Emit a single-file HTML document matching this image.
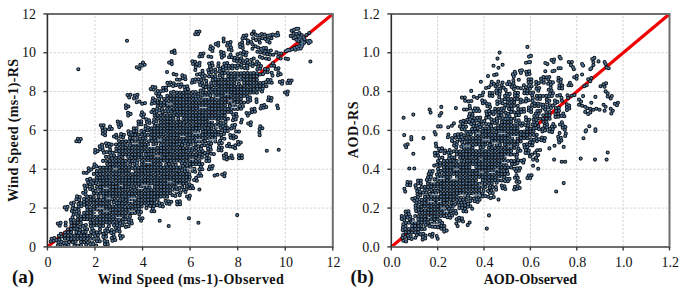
<!DOCTYPE html><html><head><meta charset="utf-8"><style>
html,body{margin:0;padding:0;background:#fff;}
svg{display:block;}
.g{stroke:#d0d0d0;stroke-width:1;stroke-dasharray:2.1 1.9;stroke-dashoffset:-2.25;}
.b{fill:none;stroke:#6e6e6e;stroke-width:2;}
.ax{stroke:#2e2e2e;stroke-width:1.6;}
.tk{stroke:#3a3a3a;stroke-width:1.4;}
.r{stroke:#f00000;stroke-width:3.2;stroke-linecap:butt;}
.ws{fill:none;stroke:#f2f2f2;stroke-width:0.8;stroke-linecap:butt;}
.ri{stroke:#e00000;stroke-width:1.2;stroke-linecap:butt;}
.do{fill:none;stroke:#0d1319;stroke-width:4.1;stroke-linecap:round;}
.di{fill:none;stroke:#577ca2;stroke-width:2.1;stroke-linecap:round;}
text{font-family:"Liberation Serif",serif;fill:#111;}
.tl{font-size:14px;}
.tt{font-size:14px;font-weight:bold;}
.tag{font-size:19px;font-weight:bold;}
</style></head><body><svg width="685" height="293" viewBox="0 0 685 293">
<line x1="94.97" y1="13.90" x2="94.97" y2="246.90" class="g"/>
<line x1="47.40" y1="208.07" x2="332.80" y2="208.07" class="g"/>
<line x1="142.53" y1="13.90" x2="142.53" y2="246.90" class="g"/>
<line x1="47.40" y1="169.23" x2="332.80" y2="169.23" class="g"/>
<line x1="190.10" y1="13.90" x2="190.10" y2="246.90" class="g"/>
<line x1="47.40" y1="130.40" x2="332.80" y2="130.40" class="g"/>
<line x1="237.67" y1="13.90" x2="237.67" y2="246.90" class="g"/>
<line x1="47.40" y1="91.57" x2="332.80" y2="91.57" class="g"/>
<line x1="285.23" y1="13.90" x2="285.23" y2="246.90" class="g"/>
<line x1="47.40" y1="52.73" x2="332.80" y2="52.73" class="g"/>
<line x1="437.67" y1="13.90" x2="437.67" y2="246.90" class="g"/>
<line x1="391.30" y1="208.07" x2="669.50" y2="208.07" class="g"/>
<line x1="484.03" y1="13.90" x2="484.03" y2="246.90" class="g"/>
<line x1="391.30" y1="169.23" x2="669.50" y2="169.23" class="g"/>
<line x1="530.40" y1="13.90" x2="530.40" y2="246.90" class="g"/>
<line x1="391.30" y1="130.40" x2="669.50" y2="130.40" class="g"/>
<line x1="576.77" y1="13.90" x2="576.77" y2="246.90" class="g"/>
<line x1="391.30" y1="91.57" x2="669.50" y2="91.57" class="g"/>
<line x1="623.13" y1="13.90" x2="623.13" y2="246.90" class="g"/>
<line x1="391.30" y1="52.73" x2="669.50" y2="52.73" class="g"/>
<line x1="47.40" y1="246.90" x2="76.65" y2="223.02" class="r"/>
<line x1="76.65" y1="223.02" x2="252.17" y2="79.72" class="ri"/>
<line x1="252.17" y1="79.72" x2="332.80" y2="13.90" class="r"/>
<line x1="391.30" y1="246.90" x2="408.69" y2="232.34" class="r"/>
<line x1="408.69" y1="232.34" x2="516.49" y2="142.05" class="ri"/>
<line x1="516.49" y1="142.05" x2="522.05" y2="137.39" class="r"/>
<line x1="522.05" y1="137.39" x2="526.23" y2="133.90" class="ri"/>
<line x1="526.23" y1="133.90" x2="669.50" y2="13.90" class="r"/>
<path id="dl" d="M78.3 69.3h0M127.0 40.7h0M136.8 67.2h0M139.5 68.7h0M140.3 64.7h0M143.0 62.6h0M144.7 64.7h0M142.0 65.8h0M171.6 52.0h0M174.4 50.5h0M174.8 53.0h0M169.1 62.6h0M171.6 61.0h0M171.8 64.1h0M167.0 72.0h0M266.8 150.8h0M278.7 149.8h0M199.4 189.5h0M198.4 222.8h0M237.2 215.1h0M159.7 220.7h0M168.7 226.0h0M189.0 218.2h0M291.6 30.7h0M294.0 29.7h0M296.4 28.8h0M298.3 28.8h0M290.7 35.9h0M293.6 33.6h0M296.4 34.0h0M299.3 33.1h0M301.7 35.0h0M295.5 36.9h0M298.3 36.4h0M300.7 37.4h0M303.6 37.4h0M293.6 38.3h0M296.4 39.8h0M299.3 39.3h0M301.7 40.2h0M304.5 39.3h0M298.3 41.2h0M302.6 42.1h0M304.5 42.6h0M307.4 41.2h0M309.8 40.7h0M308.8 43.1h0M310.7 41.7h0M306.4 35.0h0M309.3 33.1h0M301.2 43.6h0M302.6 44.5h0M299.3 46.0h0M296.9 46.9h0M294.5 47.9h0M292.1 49.3h0M289.7 50.3h0M286.9 50.7h0M300.7 48.4h0M298.3 48.8h0M295.5 49.8h0M301.7 46.4h0M253.7 31.5h0M251.8 34.0h0M255.5 34.6h0M257.4 35.8h0M259.8 35.2h0M261.7 34.0h0M264.7 34.6h0M267.8 35.8h0M270.2 35.2h0M272.7 34.6h0M275.2 35.2h0M277.6 32.7h0M278.2 35.2h0M276.4 35.8h0M253.1 38.3h0M256.1 40.1h0M259.2 39.5h0M262.3 38.3h0M265.3 38.9h0M268.4 39.5h0M271.5 38.3h0M267.2 41.3h0M269.6 42.6h0M259.8 42.6h0M251.2 42.0h0M252.5 44.4h0M255.5 46.2h0M258.0 47.5h0M261.0 48.7h0M263.5 48.1h0M266.0 48.1h0M262.3 50.5h0M265.3 51.2h0M268.4 51.2h0M270.9 50.5h0M252.5 48.7h0M276.4 52.4h0M278.8 53.6h0M281.3 53.6h0M285.6 51.2h0M288.0 49.9h0M257.4 51.8h0M260.4 52.4h0M264.1 53.6h0M267.2 54.2h0M270.2 54.8h0M273.3 54.8h0M259.8 56.7h0M262.3 57.9h0M266.0 58.5h0M269.0 59.1h0M278.2 56.7h0M280.7 58.5h0M251.2 59.7h0M253.7 58.5h0M285.6 58.5h0M288.0 59.1h0M310.4 61.5h0M74.5 245.5h0M77.7 245.5h0M81.0 245.3h0M81.0 242.0h0M84.2 242.2h0M64.8 238.8h0M68.1 238.9h0M71.2 238.9h0M74.4 239.0h0M77.6 239.0h0M80.9 238.9h0M84.1 239.0h0M87.4 238.9h0M90.5 239.0h0M93.8 238.9h0M65.0 235.5h0M68.2 235.7h0M71.4 235.7h0M74.6 235.6h0M77.8 235.8h0M81.0 235.6h0M84.2 235.6h0M87.2 235.5h0M90.4 235.6h0M65.0 232.5h0M68.1 232.4h0M71.3 232.3h0M96.9 232.4h0M100.0 232.4h0M68.0 229.3h0M71.2 229.1h0M74.4 229.0h0M87.2 229.3h0M100.0 229.3h0M71.3 225.9h0M74.5 225.8h0M77.8 226.0h0M96.8 225.9h0M100.1 226.0h0M103.2 225.9h0M71.2 222.7h0M74.6 222.6h0M77.7 222.8h0M80.8 222.7h0M90.5 222.8h0M93.8 222.7h0M97.0 222.6h0M100.2 222.6h0M103.3 222.7h0M106.5 222.5h0M109.6 222.7h0M112.8 222.7h0M77.6 219.5h0M81.0 219.4h0M84.2 219.3h0M87.2 219.3h0M96.8 219.5h0M100.1 219.4h0M103.3 219.4h0M106.4 219.4h0M109.7 219.5h0M113.0 219.3h0M116.2 219.5h0M77.8 216.1h0M80.9 216.2h0M84.0 216.2h0M87.4 216.3h0M90.4 216.1h0M93.6 216.3h0M96.9 216.1h0M100.1 216.2h0M103.2 216.1h0M106.6 216.2h0M109.6 216.0h0M113.0 216.2h0M116.1 216.1h0M119.4 216.1h0M122.4 216.0h0M125.7 216.2h0M84.1 212.9h0M87.3 212.9h0M90.5 213.0h0M93.8 212.8h0M100.1 212.9h0M103.4 212.8h0M106.6 212.9h0M109.7 212.8h0M112.9 212.8h0M116.1 212.8h0M119.4 213.0h0M122.5 213.0h0M125.7 212.9h0M128.8 213.0h0M132.2 213.0h0M135.2 213.0h0M87.3 209.8h0M90.5 209.7h0M93.8 209.6h0M96.9 209.7h0M100.1 209.7h0M103.4 209.7h0M106.6 209.5h0M116.0 209.8h0M119.3 209.7h0M122.5 209.6h0M125.7 209.7h0M129.0 209.7h0M132.2 209.6h0M93.7 206.5h0M96.9 206.3h0M100.0 206.5h0M103.2 206.5h0M106.4 206.5h0M109.6 206.4h0M112.8 206.3h0M116.1 206.4h0M119.3 206.3h0M122.4 206.3h0M132.1 206.3h0M135.4 206.3h0M138.4 206.3h0M141.7 206.5h0M87.3 203.2h0M90.5 203.1h0M93.6 203.1h0M96.8 203.1h0M100.2 203.0h0M103.2 203.3h0M106.5 203.2h0M119.2 203.2h0M122.4 203.2h0M125.7 203.2h0M128.8 203.2h0M132.2 203.1h0M135.4 203.3h0M138.4 203.1h0M141.8 203.3h0M144.8 203.2h0M148.2 203.1h0M151.4 203.1h0M154.6 203.2h0M90.6 199.9h0M93.8 199.8h0M96.9 200.0h0M100.2 200.0h0M103.2 199.9h0M106.6 199.8h0M109.6 199.8h0M125.8 200.0h0M129.0 199.9h0M132.2 199.9h0M135.2 199.8h0M138.6 199.9h0M141.7 200.0h0M145.0 200.0h0M148.1 199.9h0M151.2 199.8h0M154.4 199.9h0M157.7 199.8h0M87.2 196.6h0M90.5 196.6h0M93.8 196.8h0M103.4 196.6h0M106.4 196.7h0M109.7 196.6h0M112.9 196.5h0M116.2 196.8h0M119.4 196.5h0M122.6 196.7h0M125.6 196.7h0M128.8 196.6h0M141.6 196.8h0M145.0 196.7h0M148.1 196.6h0M151.3 196.6h0M154.4 196.7h0M157.7 196.6h0M160.8 196.6h0M164.2 196.7h0M167.3 196.8h0M93.8 193.3h0M97.0 193.5h0M100.2 193.5h0M103.3 193.4h0M106.4 193.5h0M109.7 193.4h0M112.8 193.3h0M116.1 193.5h0M119.3 193.5h0M122.4 193.3h0M125.6 193.3h0M129.0 193.4h0M132.0 193.5h0M135.3 193.5h0M138.6 193.5h0M141.7 193.4h0M144.9 193.5h0M148.2 193.4h0M151.3 193.3h0M154.6 193.4h0M157.7 193.3h0M160.9 193.5h0M164.0 193.3h0M167.3 193.4h0M170.4 193.3h0M100.2 190.0h0M103.3 190.2h0M106.5 190.2h0M109.6 190.1h0M112.9 190.0h0M116.2 190.3h0M119.3 190.1h0M122.5 190.1h0M132.0 190.2h0M135.2 190.1h0M138.5 190.2h0M141.6 190.0h0M145.0 190.0h0M148.1 190.2h0M151.4 190.1h0M154.4 190.1h0M157.7 190.0h0M161.0 190.2h0M164.2 190.1h0M167.3 190.3h0M170.4 190.3h0M97.0 186.9h0M100.0 187.0h0M103.2 187.0h0M106.5 186.9h0M109.7 186.9h0M113.0 186.9h0M116.0 186.9h0M119.2 187.0h0M122.4 186.9h0M125.7 186.9h0M154.6 186.8h0M157.6 186.9h0M161.0 186.9h0M164.0 186.9h0M167.4 186.8h0M170.4 187.0h0M173.6 186.8h0M100.2 183.7h0M103.2 183.8h0M106.5 183.8h0M109.8 183.6h0M112.9 183.8h0M116.0 183.5h0M119.2 183.7h0M122.4 183.8h0M125.6 183.6h0M129.0 183.7h0M132.2 183.7h0M135.4 183.8h0M138.6 183.7h0M141.7 183.7h0M144.8 183.6h0M148.1 183.6h0M151.3 183.5h0M154.6 183.6h0M157.7 183.6h0M160.9 183.7h0M164.2 183.7h0M167.4 183.6h0M170.5 183.6h0M176.8 183.7h0M180.0 183.5h0M183.3 183.6h0M186.5 183.6h0M93.6 180.3h0M96.8 180.5h0M100.0 180.5h0M103.3 180.5h0M106.6 180.3h0M109.6 180.5h0M116.0 180.5h0M119.3 180.5h0M122.5 180.4h0M125.7 180.3h0M129.0 180.5h0M132.1 180.4h0M135.4 180.4h0M138.4 180.4h0M141.8 180.5h0M145.0 180.3h0M148.0 180.3h0M151.3 180.5h0M154.5 180.4h0M157.7 180.3h0M160.8 180.5h0M164.2 180.4h0M167.4 180.3h0M170.4 180.3h0M173.6 180.3h0M177.0 180.4h0M180.0 180.3h0M183.2 180.3h0M113.0 177.2h0M116.0 177.1h0M119.4 177.2h0M122.5 177.2h0M125.8 177.2h0M128.8 177.3h0M132.2 177.2h0M135.4 177.2h0M138.4 177.3h0M141.8 177.0h0M145.0 177.1h0M148.0 177.3h0M151.2 177.1h0M154.4 177.2h0M157.7 177.2h0M161.0 177.3h0M164.2 177.1h0M167.4 177.1h0M170.4 177.2h0M173.7 177.2h0M176.8 177.1h0M180.0 177.1h0M183.2 177.2h0M186.4 177.1h0M189.8 177.1h0M93.8 173.9h0M96.9 173.9h0M100.1 174.0h0M103.2 173.9h0M106.4 174.0h0M109.6 174.0h0M112.8 173.9h0M116.1 174.0h0M119.3 173.9h0M122.5 173.8h0M125.8 173.9h0M128.8 173.8h0M132.2 174.0h0M135.3 174.0h0M138.4 174.0h0M141.8 173.8h0M148.1 173.9h0M151.4 173.8h0M160.9 173.8h0M164.0 174.0h0M167.2 174.0h0M170.5 173.8h0M173.6 174.0h0M176.8 174.0h0M180.1 174.0h0M183.2 174.0h0M103.3 170.8h0M106.5 170.6h0M109.6 170.5h0M113.0 170.6h0M116.2 170.6h0M119.4 170.7h0M122.4 170.6h0M125.7 170.5h0M129.0 170.5h0M135.4 170.5h0M138.4 170.7h0M141.7 170.5h0M144.8 170.7h0M148.0 170.6h0M151.4 170.6h0M154.6 170.5h0M157.6 170.5h0M161.0 170.7h0M164.2 170.7h0M167.4 170.5h0M170.5 170.5h0M173.8 170.6h0M100.1 167.5h0M103.3 167.5h0M106.4 167.5h0M109.7 167.5h0M113.0 167.3h0M116.2 167.3h0M119.3 167.5h0M122.4 167.3h0M125.8 167.3h0M129.0 167.4h0M138.6 167.5h0M141.6 167.5h0M144.8 167.5h0M148.1 167.3h0M151.3 167.3h0M154.6 167.4h0M157.7 167.5h0M160.9 167.3h0M164.1 167.5h0M167.2 167.3h0M170.6 167.3h0M173.8 167.3h0M176.8 167.5h0M180.2 167.4h0M112.8 164.1h0M116.2 164.2h0M119.2 164.0h0M122.5 164.0h0M125.8 164.0h0M141.6 164.2h0M144.8 164.2h0M148.2 164.1h0M151.4 164.1h0M154.5 164.1h0M157.8 164.1h0M160.8 164.2h0M189.8 164.0h0M193.0 164.3h0M196.1 164.3h0M199.2 164.2h0M202.4 164.1h0M109.6 161.0h0M113.0 161.0h0M116.2 160.9h0M119.3 161.0h0M122.4 161.0h0M125.6 160.9h0M129.0 160.8h0M132.1 161.0h0M144.9 161.0h0M148.1 160.8h0M151.4 160.8h0M154.5 161.0h0M157.7 160.8h0M160.9 160.8h0M164.0 160.8h0M167.2 160.9h0M170.6 160.9h0M173.8 160.8h0M176.8 160.8h0M180.1 161.0h0M183.2 160.9h0M186.5 160.9h0M189.6 161.0h0M192.8 160.9h0M196.0 160.9h0M199.4 161.0h0M116.0 157.7h0M119.2 157.5h0M122.6 157.7h0M135.2 157.7h0M138.4 157.6h0M141.6 157.5h0M144.9 157.5h0M148.1 157.7h0M151.3 157.5h0M154.5 157.6h0M157.8 157.8h0M160.9 157.7h0M164.1 157.8h0M167.4 157.8h0M170.4 157.7h0M173.8 157.7h0M177.0 157.6h0M180.0 157.7h0M183.2 157.8h0M186.6 157.6h0M189.8 157.7h0M193.0 157.7h0M196.0 157.8h0M119.3 154.4h0M122.6 154.3h0M125.7 154.5h0M128.9 154.4h0M132.2 154.5h0M135.2 154.4h0M138.6 154.4h0M141.6 154.5h0M157.6 154.4h0M161.0 154.3h0M164.2 154.5h0M167.2 154.5h0M170.4 154.3h0M173.6 154.5h0M177.0 154.3h0M180.1 154.5h0M183.4 154.3h0M186.5 154.5h0M189.8 154.4h0M192.9 154.3h0M196.1 154.5h0M116.2 151.3h0M119.2 151.1h0M122.5 151.1h0M125.6 151.1h0M128.9 151.1h0M132.1 151.1h0M135.3 151.2h0M138.4 151.1h0M141.8 151.2h0M145.0 151.3h0M148.1 151.3h0M151.4 151.1h0M161.0 151.1h0M164.1 151.2h0M167.4 151.3h0M170.6 151.2h0M176.9 151.1h0M180.2 151.1h0M183.3 151.3h0M186.4 151.1h0M196.1 151.0h0M199.4 151.3h0M202.6 151.1h0M122.6 148.0h0M125.7 147.8h0M129.0 147.8h0M132.2 147.9h0M135.3 147.8h0M138.5 148.0h0M141.7 148.0h0M144.8 147.8h0M148.1 147.8h0M151.4 147.9h0M154.4 147.9h0M157.6 147.9h0M161.0 147.9h0M164.0 148.0h0M167.2 148.0h0M170.4 147.8h0M173.8 147.9h0M176.9 148.0h0M180.0 148.0h0M183.2 148.0h0M186.5 148.0h0M189.8 148.0h0M192.8 147.9h0M196.2 147.9h0M116.0 144.5h0M119.3 144.6h0M122.5 144.6h0M125.8 144.7h0M135.4 144.5h0M138.6 144.8h0M141.8 144.7h0M145.0 144.5h0M148.1 144.6h0M167.2 144.6h0M170.5 144.5h0M173.8 144.7h0M176.8 144.6h0M122.4 141.5h0M125.8 141.3h0M128.8 141.5h0M132.1 141.4h0M135.4 141.3h0M138.4 141.5h0M141.6 141.4h0M144.8 141.3h0M161.0 141.3h0M164.1 141.3h0M167.3 141.5h0M170.4 141.4h0M173.8 141.4h0M177.0 141.5h0M180.0 141.5h0M183.4 141.4h0M186.4 141.3h0M189.8 141.4h0M192.9 141.4h0M196.0 141.3h0M199.2 141.5h0M215.3 141.4h0M151.2 138.1h0M154.4 138.0h0M157.7 138.2h0M160.8 138.3h0M164.0 138.1h0M167.3 138.2h0M170.6 138.0h0M176.8 138.1h0M180.1 138.2h0M183.4 138.2h0M186.5 138.1h0M189.6 138.1h0M196.1 138.1h0M199.4 138.1h0M202.6 138.1h0M205.6 138.1h0M208.9 138.3h0M132.2 134.8h0M135.2 134.9h0M138.4 134.8h0M141.8 134.8h0M144.8 134.8h0M148.0 134.9h0M151.3 134.8h0M154.5 134.9h0M167.4 135.0h0M170.6 135.0h0M173.8 134.9h0M176.8 135.0h0M180.0 135.0h0M183.2 135.0h0M186.5 134.9h0M189.6 134.9h0M192.9 135.0h0M196.2 135.0h0M199.4 134.9h0M202.5 134.9h0M205.7 134.8h0M208.9 134.8h0M212.2 134.8h0M215.4 134.9h0M218.4 134.8h0M151.3 131.6h0M154.5 131.6h0M157.7 131.7h0M160.9 131.6h0M164.1 131.6h0M167.3 131.5h0M170.5 131.7h0M173.6 131.8h0M177.0 131.8h0M180.1 131.8h0M183.2 131.7h0M186.5 131.6h0M189.7 131.8h0M192.8 131.7h0M202.6 131.7h0M205.6 131.6h0M209.0 131.7h0M212.1 131.5h0M215.2 131.6h0M218.5 131.7h0M151.4 128.3h0M154.4 128.5h0M157.6 128.4h0M160.9 128.4h0M164.1 128.5h0M167.4 128.3h0M170.4 128.3h0M173.6 128.4h0M177.0 128.3h0M180.1 128.3h0M183.4 128.4h0M186.5 128.5h0M189.6 128.4h0M192.8 128.5h0M196.2 128.4h0M199.4 128.3h0M157.8 125.3h0M160.9 125.3h0M164.1 125.2h0M167.4 125.0h0M170.6 125.2h0M173.7 125.2h0M176.9 125.2h0M180.1 125.1h0M183.3 125.1h0M186.6 125.1h0M189.6 125.2h0M193.0 125.3h0M196.1 125.0h0M199.2 125.3h0M202.5 125.1h0M205.8 125.0h0M209.0 125.1h0M212.0 125.3h0M215.4 125.0h0M218.6 125.3h0M160.8 122.0h0M164.2 122.0h0M167.4 121.8h0M170.4 122.0h0M173.8 121.8h0M176.9 122.0h0M180.2 121.8h0M189.8 122.0h0M193.0 121.8h0M196.1 122.0h0M199.3 121.9h0M202.5 121.9h0M205.6 121.9h0M209.0 122.0h0M212.0 122.0h0M157.6 118.8h0M160.8 118.8h0M164.2 118.7h0M167.3 118.6h0M170.4 118.7h0M173.6 118.8h0M183.4 118.8h0M186.4 118.7h0M189.8 118.8h0M199.2 118.6h0M202.6 118.7h0M205.6 118.6h0M208.9 118.8h0M212.1 118.6h0M215.2 118.8h0M218.5 118.7h0M221.7 118.6h0M224.8 118.7h0M228.0 118.8h0M154.6 115.5h0M157.7 115.3h0M160.8 115.3h0M164.1 115.3h0M167.3 115.4h0M170.4 115.5h0M173.7 115.4h0M177.0 115.3h0M180.2 115.3h0M183.4 115.3h0M186.6 115.5h0M189.7 115.4h0M192.9 115.5h0M196.0 115.5h0M199.3 115.3h0M202.6 115.5h0M205.7 115.4h0M208.9 115.5h0M212.1 115.5h0M215.4 115.3h0M218.5 115.5h0M221.7 115.3h0M224.9 115.5h0M180.2 112.1h0M183.3 112.1h0M186.5 112.3h0M189.7 112.0h0M192.9 112.2h0M196.0 112.2h0M199.4 112.1h0M202.5 112.2h0M205.7 112.3h0M208.8 112.1h0M212.0 112.3h0M215.3 112.2h0M218.5 112.0h0M221.8 112.1h0M224.8 112.3h0M228.0 112.0h0M231.2 112.2h0M173.6 109.0h0M176.8 109.0h0M180.1 108.9h0M183.3 108.8h0M186.5 108.9h0M189.6 108.8h0M192.9 108.9h0M196.1 108.8h0M199.4 108.9h0M202.6 108.8h0M205.6 109.0h0M209.0 108.8h0M212.1 108.9h0M215.3 108.9h0M218.6 109.0h0M221.6 108.8h0M224.9 108.9h0M228.0 108.9h0M231.3 109.0h0M234.6 109.0h0M237.7 109.0h0M157.7 105.8h0M160.8 105.5h0M164.0 105.6h0M167.3 105.5h0M170.4 105.5h0M173.7 105.6h0M176.9 105.7h0M180.0 105.7h0M183.3 105.5h0M186.5 105.8h0M189.8 105.8h0M192.8 105.7h0M196.1 105.7h0M199.3 105.7h0M202.5 105.6h0M205.8 105.5h0M208.8 105.8h0M212.0 105.6h0M215.4 105.8h0M218.5 105.7h0M221.6 105.7h0M225.0 105.5h0M157.8 102.5h0M160.9 102.5h0M173.7 102.3h0M176.8 102.4h0M180.1 102.4h0M183.4 102.4h0M186.6 102.3h0M189.6 102.4h0M192.8 102.5h0M196.1 102.5h0M199.2 102.5h0M202.6 102.5h0M205.8 102.3h0M209.0 102.3h0M212.1 102.3h0M215.2 102.5h0M218.5 102.5h0M221.7 102.4h0M225.0 102.5h0M228.2 102.5h0M231.4 102.5h0M234.6 102.5h0M237.6 102.3h0M240.9 102.3h0M244.2 102.5h0M164.1 99.0h0M167.3 99.0h0M170.6 99.1h0M173.7 99.2h0M176.9 99.0h0M180.1 99.3h0M183.3 99.2h0M186.6 99.2h0M189.6 99.2h0M193.0 99.1h0M196.0 99.1h0M199.4 99.1h0M202.6 99.0h0M205.6 99.2h0M208.8 99.1h0M212.1 99.1h0M215.3 99.0h0M218.4 99.0h0M221.8 99.2h0M224.9 99.1h0M228.2 99.1h0M231.4 99.3h0M234.6 99.3h0M237.7 99.2h0M241.0 99.0h0M167.2 95.8h0M170.5 95.8h0M173.8 96.0h0M176.9 95.8h0M180.2 96.0h0M183.2 96.0h0M186.6 95.9h0M189.6 95.9h0M192.9 95.8h0M215.3 96.0h0M218.6 95.9h0M221.7 95.9h0M224.9 95.8h0M228.0 95.9h0M231.3 96.0h0M234.6 95.8h0M237.6 95.8h0M240.9 96.0h0M244.2 95.9h0M176.9 92.6h0M180.1 92.5h0M183.4 92.8h0M186.6 92.5h0M202.6 92.5h0M205.8 92.5h0M208.8 92.5h0M212.2 92.7h0M215.4 92.6h0M218.5 92.6h0M221.7 92.6h0M225.0 92.6h0M228.0 92.5h0M231.3 92.5h0M234.5 92.7h0M237.7 92.5h0M240.9 92.7h0M244.1 92.7h0M247.3 92.8h0M250.4 92.7h0M253.6 92.5h0M256.9 92.7h0M208.9 89.3h0M212.2 89.3h0M215.2 89.5h0M218.5 89.3h0M221.6 89.3h0M224.9 89.3h0M228.1 89.5h0M231.4 89.3h0M234.5 89.5h0M237.8 89.5h0M241.0 89.5h0M244.1 89.4h0M247.4 89.5h0M250.5 89.5h0M253.8 89.4h0M218.4 86.2h0M221.6 86.2h0M225.0 86.1h0M228.2 86.3h0M231.2 86.2h0M234.6 86.2h0M240.8 86.2h0M244.1 86.1h0M247.3 86.1h0M250.6 86.2h0M253.8 86.0h0M257.0 86.2h0M260.0 86.1h0M263.3 86.1h0M266.4 86.3h0M218.6 82.9h0M221.7 83.0h0M224.8 82.9h0M228.2 82.9h0M231.3 83.0h0M234.5 83.0h0M244.1 82.9h0M247.4 82.8h0M250.4 82.9h0M253.8 82.9h0M256.8 82.8h0M260.1 83.0h0M263.2 82.9h0M218.4 79.5h0M221.7 79.6h0M224.8 79.5h0M228.0 79.6h0M231.3 79.5h0M234.6 79.7h0M237.7 79.7h0M240.8 79.8h0M244.2 79.8h0M247.2 79.6h0M250.4 79.6h0M253.7 79.8h0M256.9 79.7h0M209.0 76.5h0M212.0 76.3h0M215.4 76.4h0M228.1 76.3h0M231.4 76.5h0M234.5 76.5h0M237.7 76.3h0M240.9 76.5h0M244.0 76.3h0M247.3 76.4h0M250.5 76.5h0M253.8 76.3h0M256.9 76.4h0M221.8 73.2h0M224.9 73.0h0M228.0 73.0h0M231.2 73.2h0M234.6 73.1h0M237.7 73.2h0M240.9 73.3h0M244.1 73.1h0M247.4 73.0h0M250.5 73.2h0M253.6 73.1h0M257.0 73.2h0M244.0 63.3h0M170.3 82.5h0M167.4 82.9h0M169.2 85.2h0M206.3 158.1h0M209.2 158.2h0M206.3 161.0h0M209.2 161.1h0M257.3 69.3h0M260.1 68.7h0M258.2 66.6h0M261.0 66.0h0M278.5 72.4h0M278.0 75.2h0M280.7 74.2h0M282.0 83.8h0M282.5 81.0h0M279.8 81.9h0M239.0 158.2h0M238.9 155.3h0M241.9 158.1h0M241.8 155.2h0M291.6 80.5h0M288.7 80.5h0M290.2 83.0h0M287.3 83.0h0M150.7 89.1h0M153.6 89.6h0M152.6 86.9h0M155.4 87.4h0M105.1 135.2h0M105.2 132.3h0M105.2 129.4h0M102.7 133.7h0M102.7 130.8h0M122.2 225.3h0M122.8 222.4h0M120.1 223.4h0M241.8 119.7h0M241.1 122.5h0M202.5 70.8h0M202.9 73.7h0M267.9 69.4h0M267.6 72.3h0M265.0 69.1h0M264.7 72.0h0M166.3 90.3h0M163.4 90.7h0M166.0 87.5h0M163.1 87.8h0M142.0 112.3h0M141.2 115.1h0M144.0 114.4h0M143.2 117.2h0M221.0 51.8h0M221.4 54.7h0M221.9 57.6h0M223.7 52.9h0M224.1 55.7h0M239.0 131.6h0M236.1 131.5h0M111.1 155.4h0M114.0 155.4h0M112.6 152.9h0M171.3 201.8h0M168.5 201.3h0M165.6 200.8h0M169.5 204.0h0M166.6 203.5h0M259.6 129.0h0M262.4 128.2h0M260.3 126.2h0M146.4 119.2h0M146.9 122.0h0M149.1 120.2h0M149.6 123.0h0M191.9 82.8h0M194.7 82.0h0M192.6 80.0h0M195.4 79.2h0M240.4 53.4h0M237.6 54.2h0M182.3 75.4h0M182.7 78.2h0M184.9 76.4h0M185.4 79.3h0M96.9 241.3h0M99.8 241.3h0M98.3 238.8h0M103.4 233.8h0M106.3 233.3h0M196.9 180.7h0M196.1 177.9h0M194.1 180.0h0M179.7 195.2h0M180.5 192.4h0M94.5 164.4h0M93.8 167.2h0M96.5 166.4h0M136.7 102.3h0M139.5 101.5h0M268.2 100.2h0M268.8 97.4h0M271.0 100.8h0M271.6 98.0h0M233.6 135.6h0M233.6 138.5h0M236.1 137.1h0M229.0 57.3h0M231.9 57.2h0M230.5 54.8h0M195.2 171.7h0M194.4 168.9h0M192.4 171.0h0M224.4 138.7h0M221.6 138.0h0M223.4 123.4h0M222.8 126.2h0M225.6 125.3h0M109.0 129.3h0M111.8 128.9h0M110.0 126.6h0M229.7 157.8h0M232.5 158.2h0M231.5 155.5h0M102.9 150.3h0M102.4 147.4h0M102.0 144.6h0M100.2 149.2h0M99.7 146.4h0M85.5 194.4h0M85.7 191.5h0M83.1 192.7h0M111.7 144.6h0M108.8 143.9h0M106.0 143.3h0M109.7 146.7h0M106.9 146.1h0M225.9 68.6h0M225.9 65.7h0M228.8 68.6h0M228.8 65.7h0M117.7 121.5h0M118.4 124.3h0M119.2 127.1h0M120.5 122.3h0M121.2 125.1h0M136.0 209.3h0M138.9 209.1h0M227.7 128.1h0M227.8 131.0h0M224.8 128.2h0M224.9 131.1h0M260.6 108.4h0M263.5 107.8h0M266.3 107.1h0M261.5 105.7h0M264.3 105.0h0M76.3 141.2h0M79.2 141.4h0M77.9 138.8h0M80.8 139.0h0M120.4 136.7h0M121.1 134.0h0M123.1 137.5h0M123.9 134.7h0M136.6 128.3h0M136.6 131.2h0M133.7 128.3h0M133.7 131.2h0M218.2 66.3h0M218.5 63.4h0M247.8 43.5h0M247.9 40.6h0M160.7 91.2h0M157.8 91.0h0M159.1 93.6h0M156.2 93.4h0M145.6 125.9h0M145.4 128.8h0M148.0 127.6h0M147.7 130.5h0M236.1 113.8h0M236.7 116.6h0M233.2 114.4h0M233.9 117.3h0M226.8 159.5h0M226.4 156.6h0M226.0 153.8h0M224.2 158.4h0M223.8 155.5h0M179.7 79.7h0M176.9 79.5h0M67.5 206.9h0M64.7 207.4h0M66.5 209.6h0M223.6 38.6h0M223.7 41.5h0M242.8 48.1h0M242.5 45.2h0M242.2 42.3h0M240.2 46.9h0M239.9 44.0h0M186.4 180.2h0M189.3 179.8h0M266.0 82.1h0M268.9 82.4h0M271.8 82.8h0M267.7 79.8h0M270.6 80.1h0M142.5 218.2h0M139.6 218.3h0M141.1 220.7h0M208.7 86.5h0M205.8 87.1h0M190.3 188.2h0M193.2 188.3h0M191.9 185.8h0M177.0 201.6h0M179.9 201.4h0M177.2 204.5h0M180.1 204.3h0M249.4 113.2h0M246.5 113.0h0M247.8 115.6h0M209.9 66.4h0M209.1 63.6h0M212.7 65.5h0M211.9 62.8h0M203.5 53.5h0M200.6 53.8h0M202.3 56.2h0M199.4 56.5h0M218.2 45.6h0M218.2 42.7h0M215.7 44.1h0M227.0 145.9h0M229.9 146.5h0M228.9 143.7h0M251.6 109.3h0M254.5 108.7h0M252.1 112.1h0M255.0 111.6h0M141.0 211.9h0M138.1 211.7h0M139.3 214.3h0M195.2 34.3h0M198.1 34.1h0M196.5 31.7h0M199.4 31.5h0M116.5 137.7h0M116.2 134.8h0M113.9 136.5h0M73.6 214.5h0M76.4 213.8h0M103.9 152.8h0M106.7 152.0h0M130.4 94.8h0M127.5 95.0h0M129.2 97.4h0M227.1 45.6h0M229.9 44.8h0M227.8 42.8h0M230.6 42.0h0M90.9 181.6h0M88.1 182.5h0M90.0 178.9h0M87.2 179.7h0M210.7 46.2h0M210.2 49.0h0M212.9 48.1h0M212.4 50.9h0M211.1 83.1h0M211.7 85.9h0M220.1 68.6h0M219.6 71.4h0M199.4 65.6h0M199.6 62.7h0M197.0 64.0h0M128.0 112.7h0M128.2 115.6h0M130.6 113.9h0M210.8 149.7h0M210.3 146.9h0M208.1 148.7h0M207.6 145.9h0M105.2 230.6h0M108.0 231.2h0M107.1 228.5h0M218.6 150.1h0M219.0 147.2h0M221.5 150.4h0M221.9 147.5h0M217.4 174.7h0M214.6 175.6h0M243.8 51.8h0M246.6 52.6h0M243.0 54.5h0M245.8 55.4h0M173.7 83.2h0M173.1 86.0h0M175.8 85.2h0M287.2 94.4h0M287.8 91.6h0M285.0 92.5h0M262.0 91.5h0M262.7 88.7h0M81.5 206.1h0M78.7 206.5h0M81.2 203.3h0M78.3 203.7h0M61.6 236.5h0M60.8 233.7h0M58.8 235.7h0M73.2 205.4h0M73.9 202.6h0M71.1 203.4h0M111.7 230.1h0M111.3 232.9h0M114.0 231.9h0M113.5 234.8h0M195.7 92.1h0M192.8 92.1h0M145.0 103.1h0M142.2 103.8h0M237.8 65.4h0M234.9 66.1h0M236.9 68.2h0M259.7 135.3h0M259.4 132.4h0M181.4 84.4h0M178.5 84.6h0M180.1 87.0h0M231.6 50.4h0M231.0 47.5h0M228.8 49.5h0M198.5 79.3h0M199.3 82.1h0M200.2 84.9h0M201.3 80.0h0M202.1 82.8h0M153.0 98.2h0M152.4 101.0h0M151.7 103.8h0M155.1 100.1h0M154.5 103.0h0M65.6 225.5h0M65.7 222.6h0M187.2 86.2h0M188.0 89.0h0M184.4 86.9h0M185.2 89.7h0M235.1 148.2h0M235.3 145.3h0M232.7 146.7h0M60.6 222.9h0M57.8 223.6h0M59.7 225.7h0M201.9 157.6h0M199.1 156.8h0M202.7 154.8h0M199.9 154.0h0M197.0 74.6h0M199.9 74.1h0M131.8 223.4h0M131.3 220.6h0M129.1 222.5h0M128.6 219.6h0M134.0 98.4h0M136.8 97.6h0M134.7 95.6h0M137.5 94.8h0M256.5 99.2h0M256.6 102.1h0M103.7 125.2h0M100.8 125.2h0M102.2 127.7h0M157.2 108.6h0M156.7 111.4h0M159.4 110.4h0M206.3 80.8h0M206.4 83.7h0M116.9 230.8h0M119.7 231.6h0M119.0 228.8h0M90.2 184.2h0M93.0 183.4h0M246.4 35.3h0M243.6 35.8h0M245.4 38.0h0M242.5 38.4h0M250.6 125.2h0M250.9 122.4h0M248.2 123.5h0M151.5 211.3h0M154.3 211.2h0M152.8 208.8h0M277.2 105.5h0M278.0 108.3h0M252.6 66.1h0M252.6 63.2h0M250.1 64.6h0M92.8 190.1h0M92.4 187.2h0M90.1 189.0h0M120.0 235.6h0M120.8 238.4h0M122.8 236.4h0M141.3 121.4h0M141.4 124.3h0M138.4 121.6h0M138.6 124.5h0M125.9 105.2h0M126.0 108.1h0M128.4 106.5h0M241.3 64.6h0M241.3 67.5h0M95.2 149.7h0M95.1 152.6h0M97.6 151.2h0M271.3 65.7h0M274.2 65.8h0M272.8 63.3h0M157.2 205.2h0M160.0 205.9h0M162.9 206.5h0M159.2 203.1h0M162.0 203.8h0M242.9 106.4h0M240.0 106.0h0M241.1 108.7h0M238.0 141.7h0M238.7 144.5h0M240.8 142.5h0M77.2 229.3h0M80.0 230.1h0M76.4 232.1h0M79.2 232.9h0M173.6 74.1h0M176.4 74.7h0M198.4 175.9h0M201.3 175.8h0M199.8 173.4h0M211.0 153.8h0M213.9 154.1h0M247.1 59.9h0M247.8 62.7h0M115.3 240.0h0M112.5 240.8h0M114.5 237.3h0M111.7 238.0h0M109.0 177.3h0M106.1 177.3h0M50.8 241.6h0M53.6 240.8h0M56.4 240.1h0M51.6 238.8h0M54.4 238.1h0M187.5 168.2h0M187.7 171.1h0M184.6 168.4h0M184.8 171.3h0M176.6 192.3h0M177.2 189.5h0M174.4 190.4h0M189.8 195.9h0M187.0 196.5h0M189.0 198.7h0M151.4 112.0h0M154.3 112.6h0M153.4 109.8h0M79.2 199.9h0M76.4 199.3h0M79.8 197.0h0M77.0 196.4h0M182.4 187.1h0M179.6 188.0h0M247.5 96.2h0M247.7 99.1h0M247.9 102.0h0M250.1 97.5h0M250.3 100.4h0M104.5 240.9h0M107.3 241.6h0M119.7 200.2h0M122.6 199.6h0M172.6 195.2h0M175.4 196.0h0M165.3 111.1h0M168.2 111.4h0M171.1 111.8h0M167.1 108.8h0M169.9 109.1h0M263.0 74.1h0M260.1 74.5h0M59.4 239.6h0M58.6 242.4h0M57.8 245.2h0M61.4 241.7h0M60.6 244.5h0M128.4 131.2h0M128.8 134.1h0M131.1 132.4h0M272.5 75.6h0M271.7 72.8h0M211.7 72.1h0M208.9 72.8h0M211.1 69.3h0M208.2 70.0h0M208.9 169.3h0M211.7 168.8h0M209.9 166.6h0M212.7 166.1h0M85.9 225.1h0M83.1 225.9h0M230.7 137.8h0M230.2 135.0h0M275.7 68.9h0M278.5 68.2h0M87.2 186.2h0M84.4 185.6h0M85.3 188.4h0M231.4 128.4h0M234.2 127.7h0M232.2 125.6h0M235.0 124.9h0M195.3 70.0h0M195.7 67.1h0M211.3 57.0h0M208.5 56.5h0M105.9 160.8h0M103.0 160.9h0M68.5 244.9h0M69.1 242.0h0M66.4 242.9h0M156.3 143.7h0M153.4 144.2h0M236.9 61.2h0M234.1 60.5h0M237.6 58.3h0M234.8 57.7h0M83.7 172.8h0M86.6 173.0h0M195.1 61.8h0M192.3 61.2h0M193.1 63.9h0M134.7 161.1h0M134.4 164.0h0M137.0 162.9h0M198.4 93.7h0M198.3 96.6h0M93.6 225.8h0M90.7 226.0h0M92.2 228.4h0M70.7 219.7h0M73.6 220.1h0M72.5 217.4h0M90.3 244.1h0M93.2 243.9h0M125.8 227.0h0M128.6 226.2h0M126.5 224.2h0M144.1 131.8h0M141.3 130.9h0M219.0 143.5h0M221.9 143.1h0M220.1 140.8h0M224.4 176.3h0M224.8 173.4h0M222.2 174.5h0M146.4 208.1h0M146.6 205.2h0M221.2 134.8h0M224.0 134.0h0M184.8 163.7h0M181.9 163.3h0M183.1 166.0h0M205.2 128.3h0M208.1 128.4h0M202.2 95.4h0M205.0 96.1h0M215.2 69.5h0M215.7 72.4h0M116.3 148.5h0M119.2 148.0h0M205.0 141.2h0M202.2 141.8h0M238.1 86.5h0M238.9 83.7h0M117.0 225.2h0M114.1 225.4h0M115.7 227.8h0M240.1 60.9h0M243.0 60.5h0M241.2 58.2h0M84.1 204.6h0M84.0 201.7h0M125.6 219.4h0M122.7 219.3h0M88.6 168.2h0M88.7 171.1h0M91.2 169.5h0M162.5 111.9h0M161.9 109.1h0M200.6 90.6h0M203.4 89.8h0M257.3 89.1h0M260.1 89.6h0M199.5 169.2h0M202.4 169.2h0M200.9 166.7h0M201.7 145.8h0M204.5 145.3h0M93.6 233.6h0M93.7 230.7h0M91.1 232.1h0M132.8 138.0h0M129.9 137.9h0M173.7 91.8h0M170.9 92.5h0M186.5 189.3h0M183.7 189.8h0M185.5 192.0h0M103.3 236.9h0M106.2 236.7h0M205.0 75.9h0M202.1 76.2h0M203.7 78.5h0M215.1 85.6h0M215.4 82.7h0M74.6 211.7h0M71.8 211.0h0M75.3 208.9h0M72.5 208.2h0M109.8 152.7h0M110.2 149.8h0M116.5 203.1h0M115.9 200.3h0M113.8 202.2h0M160.9 96.5h0M158.0 96.2h0M159.2 98.9h0M105.9 156.7h0M108.7 157.1h0M207.7 152.2h0M204.9 153.0h0M207.0 155.0h0M163.7 134.6h0M160.8 134.5h0M223.5 69.9h0M222.9 67.1h0M142.7 138.5h0M139.8 138.7h0M235.6 106.4h0M232.7 106.1h0M247.5 68.4h0M244.6 68.0h0M151.8 141.1h0M148.9 141.3h0M224.4 63.5h0M227.2 63.0h0M158.0 173.4h0M155.2 174.1h0M232.9 120.2h0M235.7 119.4h0M211.2 143.5h0M210.5 140.7h0M208.5 142.7h0M160.9 144.9h0M163.8 144.9h0M78.7 209.8h0M79.0 212.6h0M96.8 171.0h0M99.7 170.9h0M154.2 119.4h0M153.7 122.3h0M156.4 121.3h0M82.8 231.9h0M85.7 231.9h0M86.9 206.7h0M89.8 206.9h0M257.1 61.5h0M256.2 64.3h0M259.0 63.6h0M173.0 164.6h0M175.9 164.9h0M154.2 154.1h0M151.3 154.0h0M110.0 210.1h0M112.8 209.6h0M95.1 235.9h0M97.9 235.2h0M187.9 144.3h0M190.8 144.5h0M219.7 75.5h0M222.5 76.0h0M232.4 68.4h0M232.3 65.5h0M128.3 189.7h0M128.6 186.8h0M104.9 244.3h0M107.8 244.4h0M177.3 111.7h0M174.5 112.4h0M107.2 163.8h0M110.0 164.3h0M132.3 168.1h0M135.2 167.7h0M166.9 102.9h0M164.0 102.4h0M102.6 177.4h0M99.7 177.5h0M212.6 79.9h0M215.5 79.4h0M143.7 187.1h0M140.9 186.5h0M212.3 138.0h0M215.2 137.9h0M192.1 150.6h0M189.2 150.6h0M75.6 241.6h0M72.7 242.2h0M169.0 164.0h0M166.2 164.6h0M149.6 187.6h0M146.8 187.1h0M90.2 219.5h0M93.0 219.7h0M179.3 170.9h0M176.5 170.4h0M157.9 134.9h0M87.8 242.5h0M190.6 167.3h0M128.2 157.1h0M130.0 216.4h0M218.1 121.8h0M146.0 154.5h0M183.8 122.4h0M119.1 219.9h0M198.1 131.9h0M189.3 174.3h0M220.6 127.7h0M193.0 118.5h0M158.1 151.1h0M215.8 128.0h0M145.5 138.2h0M96.8 177.5h0M136.6 186.4h0M210.3 95.4h0M141.8 160.9h0M95.8 190.7h0M173.3 151.0h0M150.2 206.0h0M195.6 144.4h0M131.5 186.4h0M108.9 226.1h0M148.6 154.4h0M96.0 183.2h0M87.0 200.0h0M178.3 118.7h0M96.2 245.6h0M80.3 227.1h0M182.1 144.9h0M98.6 196.4h0M130.0 145.2h0M229.8 106.1h0M185.0 143.7h0M125.1 206.9h0M225.6 121.9h0M155.4 140.7h0M220.7 122.8h0M109.5 202.7h0M128.5 207.0h0M134.4 197.1h0M86.2 244.7h0M130.2 164.4h0M131.7 196.8h0M186.6 174.0h0M247.1 65.8h0M195.8 118.9h0M116.5 222.6h0M137.7 160.2h0M138.3 197.0h0M112.1 158.4h0M63.7 243.0h0M189.3 92.3h0M211.6 128.5h0M170.6 102.3h0M64.7 245.7h0M192.6 137.8h0M186.8 186.3h0M137.3 137.6h0M198.4 146.4h0M84.0 199.1h0M131.9 157.8h0M145.2 173.4h0M179.4 144.1h0M112.5 179.9h0M154.0 206.1h0M112.3 199.2h0M154.6 125.8h0M84.6 228.1h0M173.7 183.1h0M133.9 187.5h0M189.5 184.4h0M173.7 137.8h0M154.2 151.1h0M203.0 86.1h0M125.5 189.7h0M119.0 141.0h0M195.4 131.2h0M91.9 241.5h0M222.1 130.4h0M202.2 129.0h0M119.5 226.1h0M207.6 96.6h0M132.7 144.1h0M195.6 96.4h0M182.1 170.3h0M158.2 140.9h0M136.8 165.6h0M186.5 121.6h0M187.0 165.4h0M201.0 148.9h0M176.4 186.9h0" class="do"/><path d="M78.3 69.3h0M127.0 40.7h0M136.8 67.2h0M139.5 68.7h0M140.3 64.7h0M143.0 62.6h0M144.7 64.7h0M142.0 65.8h0M171.6 52.0h0M174.4 50.5h0M174.8 53.0h0M169.1 62.6h0M171.6 61.0h0M171.8 64.1h0M167.0 72.0h0M266.8 150.8h0M278.7 149.8h0M199.4 189.5h0M198.4 222.8h0M237.2 215.1h0M159.7 220.7h0M168.7 226.0h0M189.0 218.2h0M291.6 30.7h0M294.0 29.7h0M296.4 28.8h0M298.3 28.8h0M290.7 35.9h0M293.6 33.6h0M296.4 34.0h0M299.3 33.1h0M301.7 35.0h0M295.5 36.9h0M298.3 36.4h0M300.7 37.4h0M303.6 37.4h0M293.6 38.3h0M296.4 39.8h0M299.3 39.3h0M301.7 40.2h0M304.5 39.3h0M298.3 41.2h0M302.6 42.1h0M304.5 42.6h0M307.4 41.2h0M309.8 40.7h0M308.8 43.1h0M310.7 41.7h0M306.4 35.0h0M309.3 33.1h0M301.2 43.6h0M302.6 44.5h0M299.3 46.0h0M296.9 46.9h0M294.5 47.9h0M292.1 49.3h0M289.7 50.3h0M286.9 50.7h0M300.7 48.4h0M298.3 48.8h0M295.5 49.8h0M301.7 46.4h0M253.7 31.5h0M251.8 34.0h0M255.5 34.6h0M257.4 35.8h0M259.8 35.2h0M261.7 34.0h0M264.7 34.6h0M267.8 35.8h0M270.2 35.2h0M272.7 34.6h0M275.2 35.2h0M277.6 32.7h0M278.2 35.2h0M276.4 35.8h0M253.1 38.3h0M256.1 40.1h0M259.2 39.5h0M262.3 38.3h0M265.3 38.9h0M268.4 39.5h0M271.5 38.3h0M267.2 41.3h0M269.6 42.6h0M259.8 42.6h0M251.2 42.0h0M252.5 44.4h0M255.5 46.2h0M258.0 47.5h0M261.0 48.7h0M263.5 48.1h0M266.0 48.1h0M262.3 50.5h0M265.3 51.2h0M268.4 51.2h0M270.9 50.5h0M252.5 48.7h0M276.4 52.4h0M278.8 53.6h0M281.3 53.6h0M285.6 51.2h0M288.0 49.9h0M257.4 51.8h0M260.4 52.4h0M264.1 53.6h0M267.2 54.2h0M270.2 54.8h0M273.3 54.8h0M259.8 56.7h0M262.3 57.9h0M266.0 58.5h0M269.0 59.1h0M278.2 56.7h0M280.7 58.5h0M251.2 59.7h0M253.7 58.5h0M285.6 58.5h0M288.0 59.1h0M310.4 61.5h0M74.5 245.5h0M77.7 245.5h0M81.0 245.3h0M81.0 242.0h0M84.2 242.2h0M64.8 238.8h0M68.1 238.9h0M71.2 238.9h0M74.4 239.0h0M77.6 239.0h0M80.9 238.9h0M84.1 239.0h0M87.4 238.9h0M90.5 239.0h0M93.8 238.9h0M65.0 235.5h0M68.2 235.7h0M71.4 235.7h0M74.6 235.6h0M77.8 235.8h0M81.0 235.6h0M84.2 235.6h0M87.2 235.5h0M90.4 235.6h0M65.0 232.5h0M68.1 232.4h0M71.3 232.3h0M96.9 232.4h0M100.0 232.4h0M68.0 229.3h0M71.2 229.1h0M74.4 229.0h0M87.2 229.3h0M100.0 229.3h0M71.3 225.9h0M74.5 225.8h0M77.8 226.0h0M96.8 225.9h0M100.1 226.0h0M103.2 225.9h0M71.2 222.7h0M74.6 222.6h0M77.7 222.8h0M80.8 222.7h0M90.5 222.8h0M93.8 222.7h0M97.0 222.6h0M100.2 222.6h0M103.3 222.7h0M106.5 222.5h0M109.6 222.7h0M112.8 222.7h0M77.6 219.5h0M81.0 219.4h0M84.2 219.3h0M87.2 219.3h0M96.8 219.5h0M100.1 219.4h0M103.3 219.4h0M106.4 219.4h0M109.7 219.5h0M113.0 219.3h0M116.2 219.5h0M77.8 216.1h0M80.9 216.2h0M84.0 216.2h0M87.4 216.3h0M90.4 216.1h0M93.6 216.3h0M96.9 216.1h0M100.1 216.2h0M103.2 216.1h0M106.6 216.2h0M109.6 216.0h0M113.0 216.2h0M116.1 216.1h0M119.4 216.1h0M122.4 216.0h0M125.7 216.2h0M84.1 212.9h0M87.3 212.9h0M90.5 213.0h0M93.8 212.8h0M100.1 212.9h0M103.4 212.8h0M106.6 212.9h0M109.7 212.8h0M112.9 212.8h0M116.1 212.8h0M119.4 213.0h0M122.5 213.0h0M125.7 212.9h0M128.8 213.0h0M132.2 213.0h0M135.2 213.0h0M87.3 209.8h0M90.5 209.7h0M93.8 209.6h0M96.9 209.7h0M100.1 209.7h0M103.4 209.7h0M106.6 209.5h0M116.0 209.8h0M119.3 209.7h0M122.5 209.6h0M125.7 209.7h0M129.0 209.7h0M132.2 209.6h0M93.7 206.5h0M96.9 206.3h0M100.0 206.5h0M103.2 206.5h0M106.4 206.5h0M109.6 206.4h0M112.8 206.3h0M116.1 206.4h0M119.3 206.3h0M122.4 206.3h0M132.1 206.3h0M135.4 206.3h0M138.4 206.3h0M141.7 206.5h0M87.3 203.2h0M90.5 203.1h0M93.6 203.1h0M96.8 203.1h0M100.2 203.0h0M103.2 203.3h0M106.5 203.2h0M119.2 203.2h0M122.4 203.2h0M125.7 203.2h0M128.8 203.2h0M132.2 203.1h0M135.4 203.3h0M138.4 203.1h0M141.8 203.3h0M144.8 203.2h0M148.2 203.1h0M151.4 203.1h0M154.6 203.2h0M90.6 199.9h0M93.8 199.8h0M96.9 200.0h0M100.2 200.0h0M103.2 199.9h0M106.6 199.8h0M109.6 199.8h0M125.8 200.0h0M129.0 199.9h0M132.2 199.9h0M135.2 199.8h0M138.6 199.9h0M141.7 200.0h0M145.0 200.0h0M148.1 199.9h0M151.2 199.8h0M154.4 199.9h0M157.7 199.8h0M87.2 196.6h0M90.5 196.6h0M93.8 196.8h0M103.4 196.6h0M106.4 196.7h0M109.7 196.6h0M112.9 196.5h0M116.2 196.8h0M119.4 196.5h0M122.6 196.7h0M125.6 196.7h0M128.8 196.6h0M141.6 196.8h0M145.0 196.7h0M148.1 196.6h0M151.3 196.6h0M154.4 196.7h0M157.7 196.6h0M160.8 196.6h0M164.2 196.7h0M167.3 196.8h0M93.8 193.3h0M97.0 193.5h0M100.2 193.5h0M103.3 193.4h0M106.4 193.5h0M109.7 193.4h0M112.8 193.3h0M116.1 193.5h0M119.3 193.5h0M122.4 193.3h0M125.6 193.3h0M129.0 193.4h0M132.0 193.5h0M135.3 193.5h0M138.6 193.5h0M141.7 193.4h0M144.9 193.5h0M148.2 193.4h0M151.3 193.3h0M154.6 193.4h0M157.7 193.3h0M160.9 193.5h0M164.0 193.3h0M167.3 193.4h0M170.4 193.3h0M100.2 190.0h0M103.3 190.2h0M106.5 190.2h0M109.6 190.1h0M112.9 190.0h0M116.2 190.3h0M119.3 190.1h0M122.5 190.1h0M132.0 190.2h0M135.2 190.1h0M138.5 190.2h0M141.6 190.0h0M145.0 190.0h0M148.1 190.2h0M151.4 190.1h0M154.4 190.1h0M157.7 190.0h0M161.0 190.2h0M164.2 190.1h0M167.3 190.3h0M170.4 190.3h0M97.0 186.9h0M100.0 187.0h0M103.2 187.0h0M106.5 186.9h0M109.7 186.9h0M113.0 186.9h0M116.0 186.9h0M119.2 187.0h0M122.4 186.9h0M125.7 186.9h0M154.6 186.8h0M157.6 186.9h0M161.0 186.9h0M164.0 186.9h0M167.4 186.8h0M170.4 187.0h0M173.6 186.8h0M100.2 183.7h0M103.2 183.8h0M106.5 183.8h0M109.8 183.6h0M112.9 183.8h0M116.0 183.5h0M119.2 183.7h0M122.4 183.8h0M125.6 183.6h0M129.0 183.7h0M132.2 183.7h0M135.4 183.8h0M138.6 183.7h0M141.7 183.7h0M144.8 183.6h0M148.1 183.6h0M151.3 183.5h0M154.6 183.6h0M157.7 183.6h0M160.9 183.7h0M164.2 183.7h0M167.4 183.6h0M170.5 183.6h0M176.8 183.7h0M180.0 183.5h0M183.3 183.6h0M186.5 183.6h0M93.6 180.3h0M96.8 180.5h0M100.0 180.5h0M103.3 180.5h0M106.6 180.3h0M109.6 180.5h0M116.0 180.5h0M119.3 180.5h0M122.5 180.4h0M125.7 180.3h0M129.0 180.5h0M132.1 180.4h0M135.4 180.4h0M138.4 180.4h0M141.8 180.5h0M145.0 180.3h0M148.0 180.3h0M151.3 180.5h0M154.5 180.4h0M157.7 180.3h0M160.8 180.5h0M164.2 180.4h0M167.4 180.3h0M170.4 180.3h0M173.6 180.3h0M177.0 180.4h0M180.0 180.3h0M183.2 180.3h0M113.0 177.2h0M116.0 177.1h0M119.4 177.2h0M122.5 177.2h0M125.8 177.2h0M128.8 177.3h0M132.2 177.2h0M135.4 177.2h0M138.4 177.3h0M141.8 177.0h0M145.0 177.1h0M148.0 177.3h0M151.2 177.1h0M154.4 177.2h0M157.7 177.2h0M161.0 177.3h0M164.2 177.1h0M167.4 177.1h0M170.4 177.2h0M173.7 177.2h0M176.8 177.1h0M180.0 177.1h0M183.2 177.2h0M186.4 177.1h0M189.8 177.1h0M93.8 173.9h0M96.9 173.9h0M100.1 174.0h0M103.2 173.9h0M106.4 174.0h0M109.6 174.0h0M112.8 173.9h0M116.1 174.0h0M119.3 173.9h0M122.5 173.8h0M125.8 173.9h0M128.8 173.8h0M132.2 174.0h0M135.3 174.0h0M138.4 174.0h0M141.8 173.8h0M148.1 173.9h0M151.4 173.8h0M160.9 173.8h0M164.0 174.0h0M167.2 174.0h0M170.5 173.8h0M173.6 174.0h0M176.8 174.0h0M180.1 174.0h0M183.2 174.0h0M103.3 170.8h0M106.5 170.6h0M109.6 170.5h0M113.0 170.6h0M116.2 170.6h0M119.4 170.7h0M122.4 170.6h0M125.7 170.5h0M129.0 170.5h0M135.4 170.5h0M138.4 170.7h0M141.7 170.5h0M144.8 170.7h0M148.0 170.6h0M151.4 170.6h0M154.6 170.5h0M157.6 170.5h0M161.0 170.7h0M164.2 170.7h0M167.4 170.5h0M170.5 170.5h0M173.8 170.6h0M100.1 167.5h0M103.3 167.5h0M106.4 167.5h0M109.7 167.5h0M113.0 167.3h0M116.2 167.3h0M119.3 167.5h0M122.4 167.3h0M125.8 167.3h0M129.0 167.4h0M138.6 167.5h0M141.6 167.5h0M144.8 167.5h0M148.1 167.3h0M151.3 167.3h0M154.6 167.4h0M157.7 167.5h0M160.9 167.3h0M164.1 167.5h0M167.2 167.3h0M170.6 167.3h0M173.8 167.3h0M176.8 167.5h0M180.2 167.4h0M112.8 164.1h0M116.2 164.2h0M119.2 164.0h0M122.5 164.0h0M125.8 164.0h0M141.6 164.2h0M144.8 164.2h0M148.2 164.1h0M151.4 164.1h0M154.5 164.1h0M157.8 164.1h0M160.8 164.2h0M189.8 164.0h0M193.0 164.3h0M196.1 164.3h0M199.2 164.2h0M202.4 164.1h0M109.6 161.0h0M113.0 161.0h0M116.2 160.9h0M119.3 161.0h0M122.4 161.0h0M125.6 160.9h0M129.0 160.8h0M132.1 161.0h0M144.9 161.0h0M148.1 160.8h0M151.4 160.8h0M154.5 161.0h0M157.7 160.8h0M160.9 160.8h0M164.0 160.8h0M167.2 160.9h0M170.6 160.9h0M173.8 160.8h0M176.8 160.8h0M180.1 161.0h0M183.2 160.9h0M186.5 160.9h0M189.6 161.0h0M192.8 160.9h0M196.0 160.9h0M199.4 161.0h0M116.0 157.7h0M119.2 157.5h0M122.6 157.7h0M135.2 157.7h0M138.4 157.6h0M141.6 157.5h0M144.9 157.5h0M148.1 157.7h0M151.3 157.5h0M154.5 157.6h0M157.8 157.8h0M160.9 157.7h0M164.1 157.8h0M167.4 157.8h0M170.4 157.7h0M173.8 157.7h0M177.0 157.6h0M180.0 157.7h0M183.2 157.8h0M186.6 157.6h0M189.8 157.7h0M193.0 157.7h0M196.0 157.8h0M119.3 154.4h0M122.6 154.3h0M125.7 154.5h0M128.9 154.4h0M132.2 154.5h0M135.2 154.4h0M138.6 154.4h0M141.6 154.5h0M157.6 154.4h0M161.0 154.3h0M164.2 154.5h0M167.2 154.5h0M170.4 154.3h0M173.6 154.5h0M177.0 154.3h0M180.1 154.5h0M183.4 154.3h0M186.5 154.5h0M189.8 154.4h0M192.9 154.3h0M196.1 154.5h0M116.2 151.3h0M119.2 151.1h0M122.5 151.1h0M125.6 151.1h0M128.9 151.1h0M132.1 151.1h0M135.3 151.2h0M138.4 151.1h0M141.8 151.2h0M145.0 151.3h0M148.1 151.3h0M151.4 151.1h0M161.0 151.1h0M164.1 151.2h0M167.4 151.3h0M170.6 151.2h0M176.9 151.1h0M180.2 151.1h0M183.3 151.3h0M186.4 151.1h0M196.1 151.0h0M199.4 151.3h0M202.6 151.1h0M122.6 148.0h0M125.7 147.8h0M129.0 147.8h0M132.2 147.9h0M135.3 147.8h0M138.5 148.0h0M141.7 148.0h0M144.8 147.8h0M148.1 147.8h0M151.4 147.9h0M154.4 147.9h0M157.6 147.9h0M161.0 147.9h0M164.0 148.0h0M167.2 148.0h0M170.4 147.8h0M173.8 147.9h0M176.9 148.0h0M180.0 148.0h0M183.2 148.0h0M186.5 148.0h0M189.8 148.0h0M192.8 147.9h0M196.2 147.9h0M116.0 144.5h0M119.3 144.6h0M122.5 144.6h0M125.8 144.7h0M135.4 144.5h0M138.6 144.8h0M141.8 144.7h0M145.0 144.5h0M148.1 144.6h0M167.2 144.6h0M170.5 144.5h0M173.8 144.7h0M176.8 144.6h0M122.4 141.5h0M125.8 141.3h0M128.8 141.5h0M132.1 141.4h0M135.4 141.3h0M138.4 141.5h0M141.6 141.4h0M144.8 141.3h0M161.0 141.3h0M164.1 141.3h0M167.3 141.5h0M170.4 141.4h0M173.8 141.4h0M177.0 141.5h0M180.0 141.5h0M183.4 141.4h0M186.4 141.3h0M189.8 141.4h0M192.9 141.4h0M196.0 141.3h0M199.2 141.5h0M215.3 141.4h0M151.2 138.1h0M154.4 138.0h0M157.7 138.2h0M160.8 138.3h0M164.0 138.1h0M167.3 138.2h0M170.6 138.0h0M176.8 138.1h0M180.1 138.2h0M183.4 138.2h0M186.5 138.1h0M189.6 138.1h0M196.1 138.1h0M199.4 138.1h0M202.6 138.1h0M205.6 138.1h0M208.9 138.3h0M132.2 134.8h0M135.2 134.9h0M138.4 134.8h0M141.8 134.8h0M144.8 134.8h0M148.0 134.9h0M151.3 134.8h0M154.5 134.9h0M167.4 135.0h0M170.6 135.0h0M173.8 134.9h0M176.8 135.0h0M180.0 135.0h0M183.2 135.0h0M186.5 134.9h0M189.6 134.9h0M192.9 135.0h0M196.2 135.0h0M199.4 134.9h0M202.5 134.9h0M205.7 134.8h0M208.9 134.8h0M212.2 134.8h0M215.4 134.9h0M218.4 134.8h0M151.3 131.6h0M154.5 131.6h0M157.7 131.7h0M160.9 131.6h0M164.1 131.6h0M167.3 131.5h0M170.5 131.7h0M173.6 131.8h0M177.0 131.8h0M180.1 131.8h0M183.2 131.7h0M186.5 131.6h0M189.7 131.8h0M192.8 131.7h0M202.6 131.7h0M205.6 131.6h0M209.0 131.7h0M212.1 131.5h0M215.2 131.6h0M218.5 131.7h0M151.4 128.3h0M154.4 128.5h0M157.6 128.4h0M160.9 128.4h0M164.1 128.5h0M167.4 128.3h0M170.4 128.3h0M173.6 128.4h0M177.0 128.3h0M180.1 128.3h0M183.4 128.4h0M186.5 128.5h0M189.6 128.4h0M192.8 128.5h0M196.2 128.4h0M199.4 128.3h0M157.8 125.3h0M160.9 125.3h0M164.1 125.2h0M167.4 125.0h0M170.6 125.2h0M173.7 125.2h0M176.9 125.2h0M180.1 125.1h0M183.3 125.1h0M186.6 125.1h0M189.6 125.2h0M193.0 125.3h0M196.1 125.0h0M199.2 125.3h0M202.5 125.1h0M205.8 125.0h0M209.0 125.1h0M212.0 125.3h0M215.4 125.0h0M218.6 125.3h0M160.8 122.0h0M164.2 122.0h0M167.4 121.8h0M170.4 122.0h0M173.8 121.8h0M176.9 122.0h0M180.2 121.8h0M189.8 122.0h0M193.0 121.8h0M196.1 122.0h0M199.3 121.9h0M202.5 121.9h0M205.6 121.9h0M209.0 122.0h0M212.0 122.0h0M157.6 118.8h0M160.8 118.8h0M164.2 118.7h0M167.3 118.6h0M170.4 118.7h0M173.6 118.8h0M183.4 118.8h0M186.4 118.7h0M189.8 118.8h0M199.2 118.6h0M202.6 118.7h0M205.6 118.6h0M208.9 118.8h0M212.1 118.6h0M215.2 118.8h0M218.5 118.7h0M221.7 118.6h0M224.8 118.7h0M228.0 118.8h0M154.6 115.5h0M157.7 115.3h0M160.8 115.3h0M164.1 115.3h0M167.3 115.4h0M170.4 115.5h0M173.7 115.4h0M177.0 115.3h0M180.2 115.3h0M183.4 115.3h0M186.6 115.5h0M189.7 115.4h0M192.9 115.5h0M196.0 115.5h0M199.3 115.3h0M202.6 115.5h0M205.7 115.4h0M208.9 115.5h0M212.1 115.5h0M215.4 115.3h0M218.5 115.5h0M221.7 115.3h0M224.9 115.5h0M180.2 112.1h0M183.3 112.1h0M186.5 112.3h0M189.7 112.0h0M192.9 112.2h0M196.0 112.2h0M199.4 112.1h0M202.5 112.2h0M205.7 112.3h0M208.8 112.1h0M212.0 112.3h0M215.3 112.2h0M218.5 112.0h0M221.8 112.1h0M224.8 112.3h0M228.0 112.0h0M231.2 112.2h0M173.6 109.0h0M176.8 109.0h0M180.1 108.9h0M183.3 108.8h0M186.5 108.9h0M189.6 108.8h0M192.9 108.9h0M196.1 108.8h0M199.4 108.9h0M202.6 108.8h0M205.6 109.0h0M209.0 108.8h0M212.1 108.9h0M215.3 108.9h0M218.6 109.0h0M221.6 108.8h0M224.9 108.9h0M228.0 108.9h0M231.3 109.0h0M234.6 109.0h0M237.7 109.0h0M157.7 105.8h0M160.8 105.5h0M164.0 105.6h0M167.3 105.5h0M170.4 105.5h0M173.7 105.6h0M176.9 105.7h0M180.0 105.7h0M183.3 105.5h0M186.5 105.8h0M189.8 105.8h0M192.8 105.7h0M196.1 105.7h0M199.3 105.7h0M202.5 105.6h0M205.8 105.5h0M208.8 105.8h0M212.0 105.6h0M215.4 105.8h0M218.5 105.7h0M221.6 105.7h0M225.0 105.5h0M157.8 102.5h0M160.9 102.5h0M173.7 102.3h0M176.8 102.4h0M180.1 102.4h0M183.4 102.4h0M186.6 102.3h0M189.6 102.4h0M192.8 102.5h0M196.1 102.5h0M199.2 102.5h0M202.6 102.5h0M205.8 102.3h0M209.0 102.3h0M212.1 102.3h0M215.2 102.5h0M218.5 102.5h0M221.7 102.4h0M225.0 102.5h0M228.2 102.5h0M231.4 102.5h0M234.6 102.5h0M237.6 102.3h0M240.9 102.3h0M244.2 102.5h0M164.1 99.0h0M167.3 99.0h0M170.6 99.1h0M173.7 99.2h0M176.9 99.0h0M180.1 99.3h0M183.3 99.2h0M186.6 99.2h0M189.6 99.2h0M193.0 99.1h0M196.0 99.1h0M199.4 99.1h0M202.6 99.0h0M205.6 99.2h0M208.8 99.1h0M212.1 99.1h0M215.3 99.0h0M218.4 99.0h0M221.8 99.2h0M224.9 99.1h0M228.2 99.1h0M231.4 99.3h0M234.6 99.3h0M237.7 99.2h0M241.0 99.0h0M167.2 95.8h0M170.5 95.8h0M173.8 96.0h0M176.9 95.8h0M180.2 96.0h0M183.2 96.0h0M186.6 95.9h0M189.6 95.9h0M192.9 95.8h0M215.3 96.0h0M218.6 95.9h0M221.7 95.9h0M224.9 95.8h0M228.0 95.9h0M231.3 96.0h0M234.6 95.8h0M237.6 95.8h0M240.9 96.0h0M244.2 95.9h0M176.9 92.6h0M180.1 92.5h0M183.4 92.8h0M186.6 92.5h0M202.6 92.5h0M205.8 92.5h0M208.8 92.5h0M212.2 92.7h0M215.4 92.6h0M218.5 92.6h0M221.7 92.6h0M225.0 92.6h0M228.0 92.5h0M231.3 92.5h0M234.5 92.7h0M237.7 92.5h0M240.9 92.7h0M244.1 92.7h0M247.3 92.8h0M250.4 92.7h0M253.6 92.5h0M256.9 92.7h0M208.9 89.3h0M212.2 89.3h0M215.2 89.5h0M218.5 89.3h0M221.6 89.3h0M224.9 89.3h0M228.1 89.5h0M231.4 89.3h0M234.5 89.5h0M237.8 89.5h0M241.0 89.5h0M244.1 89.4h0M247.4 89.5h0M250.5 89.5h0M253.8 89.4h0M218.4 86.2h0M221.6 86.2h0M225.0 86.1h0M228.2 86.3h0M231.2 86.2h0M234.6 86.2h0M240.8 86.2h0M244.1 86.1h0M247.3 86.1h0M250.6 86.2h0M253.8 86.0h0M257.0 86.2h0M260.0 86.1h0M263.3 86.1h0M266.4 86.3h0M218.6 82.9h0M221.7 83.0h0M224.8 82.9h0M228.2 82.9h0M231.3 83.0h0M234.5 83.0h0M244.1 82.9h0M247.4 82.8h0M250.4 82.9h0M253.8 82.9h0M256.8 82.8h0M260.1 83.0h0M263.2 82.9h0M218.4 79.5h0M221.7 79.6h0M224.8 79.5h0M228.0 79.6h0M231.3 79.5h0M234.6 79.7h0M237.7 79.7h0M240.8 79.8h0M244.2 79.8h0M247.2 79.6h0M250.4 79.6h0M253.7 79.8h0M256.9 79.7h0M209.0 76.5h0M212.0 76.3h0M215.4 76.4h0M228.1 76.3h0M231.4 76.5h0M234.5 76.5h0M237.7 76.3h0M240.9 76.5h0M244.0 76.3h0M247.3 76.4h0M250.5 76.5h0M253.8 76.3h0M256.9 76.4h0M221.8 73.2h0M224.9 73.0h0M228.0 73.0h0M231.2 73.2h0M234.6 73.1h0M237.7 73.2h0M240.9 73.3h0M244.1 73.1h0M247.4 73.0h0M250.5 73.2h0M253.6 73.1h0M257.0 73.2h0M244.0 63.3h0M170.3 82.5h0M167.4 82.9h0M169.2 85.2h0M206.3 158.1h0M209.2 158.2h0M206.3 161.0h0M209.2 161.1h0M257.3 69.3h0M260.1 68.7h0M258.2 66.6h0M261.0 66.0h0M278.5 72.4h0M278.0 75.2h0M280.7 74.2h0M282.0 83.8h0M282.5 81.0h0M279.8 81.9h0M239.0 158.2h0M238.9 155.3h0M241.9 158.1h0M241.8 155.2h0M291.6 80.5h0M288.7 80.5h0M290.2 83.0h0M287.3 83.0h0M150.7 89.1h0M153.6 89.6h0M152.6 86.9h0M155.4 87.4h0M105.1 135.2h0M105.2 132.3h0M105.2 129.4h0M102.7 133.7h0M102.7 130.8h0M122.2 225.3h0M122.8 222.4h0M120.1 223.4h0M241.8 119.7h0M241.1 122.5h0M202.5 70.8h0M202.9 73.7h0M267.9 69.4h0M267.6 72.3h0M265.0 69.1h0M264.7 72.0h0M166.3 90.3h0M163.4 90.7h0M166.0 87.5h0M163.1 87.8h0M142.0 112.3h0M141.2 115.1h0M144.0 114.4h0M143.2 117.2h0M221.0 51.8h0M221.4 54.7h0M221.9 57.6h0M223.7 52.9h0M224.1 55.7h0M239.0 131.6h0M236.1 131.5h0M111.1 155.4h0M114.0 155.4h0M112.6 152.9h0M171.3 201.8h0M168.5 201.3h0M165.6 200.8h0M169.5 204.0h0M166.6 203.5h0M259.6 129.0h0M262.4 128.2h0M260.3 126.2h0M146.4 119.2h0M146.9 122.0h0M149.1 120.2h0M149.6 123.0h0M191.9 82.8h0M194.7 82.0h0M192.6 80.0h0M195.4 79.2h0M240.4 53.4h0M237.6 54.2h0M182.3 75.4h0M182.7 78.2h0M184.9 76.4h0M185.4 79.3h0M96.9 241.3h0M99.8 241.3h0M98.3 238.8h0M103.4 233.8h0M106.3 233.3h0M196.9 180.7h0M196.1 177.9h0M194.1 180.0h0M179.7 195.2h0M180.5 192.4h0M94.5 164.4h0M93.8 167.2h0M96.5 166.4h0M136.7 102.3h0M139.5 101.5h0M268.2 100.2h0M268.8 97.4h0M271.0 100.8h0M271.6 98.0h0M233.6 135.6h0M233.6 138.5h0M236.1 137.1h0M229.0 57.3h0M231.9 57.2h0M230.5 54.8h0M195.2 171.7h0M194.4 168.9h0M192.4 171.0h0M224.4 138.7h0M221.6 138.0h0M223.4 123.4h0M222.8 126.2h0M225.6 125.3h0M109.0 129.3h0M111.8 128.9h0M110.0 126.6h0M229.7 157.8h0M232.5 158.2h0M231.5 155.5h0M102.9 150.3h0M102.4 147.4h0M102.0 144.6h0M100.2 149.2h0M99.7 146.4h0M85.5 194.4h0M85.7 191.5h0M83.1 192.7h0M111.7 144.6h0M108.8 143.9h0M106.0 143.3h0M109.7 146.7h0M106.9 146.1h0M225.9 68.6h0M225.9 65.7h0M228.8 68.6h0M228.8 65.7h0M117.7 121.5h0M118.4 124.3h0M119.2 127.1h0M120.5 122.3h0M121.2 125.1h0M136.0 209.3h0M138.9 209.1h0M227.7 128.1h0M227.8 131.0h0M224.8 128.2h0M224.9 131.1h0M260.6 108.4h0M263.5 107.8h0M266.3 107.1h0M261.5 105.7h0M264.3 105.0h0M76.3 141.2h0M79.2 141.4h0M77.9 138.8h0M80.8 139.0h0M120.4 136.7h0M121.1 134.0h0M123.1 137.5h0M123.9 134.7h0M136.6 128.3h0M136.6 131.2h0M133.7 128.3h0M133.7 131.2h0M218.2 66.3h0M218.5 63.4h0M247.8 43.5h0M247.9 40.6h0M160.7 91.2h0M157.8 91.0h0M159.1 93.6h0M156.2 93.4h0M145.6 125.9h0M145.4 128.8h0M148.0 127.6h0M147.7 130.5h0M236.1 113.8h0M236.7 116.6h0M233.2 114.4h0M233.9 117.3h0M226.8 159.5h0M226.4 156.6h0M226.0 153.8h0M224.2 158.4h0M223.8 155.5h0M179.7 79.7h0M176.9 79.5h0M67.5 206.9h0M64.7 207.4h0M66.5 209.6h0M223.6 38.6h0M223.7 41.5h0M242.8 48.1h0M242.5 45.2h0M242.2 42.3h0M240.2 46.9h0M239.9 44.0h0M186.4 180.2h0M189.3 179.8h0M266.0 82.1h0M268.9 82.4h0M271.8 82.8h0M267.7 79.8h0M270.6 80.1h0M142.5 218.2h0M139.6 218.3h0M141.1 220.7h0M208.7 86.5h0M205.8 87.1h0M190.3 188.2h0M193.2 188.3h0M191.9 185.8h0M177.0 201.6h0M179.9 201.4h0M177.2 204.5h0M180.1 204.3h0M249.4 113.2h0M246.5 113.0h0M247.8 115.6h0M209.9 66.4h0M209.1 63.6h0M212.7 65.5h0M211.9 62.8h0M203.5 53.5h0M200.6 53.8h0M202.3 56.2h0M199.4 56.5h0M218.2 45.6h0M218.2 42.7h0M215.7 44.1h0M227.0 145.9h0M229.9 146.5h0M228.9 143.7h0M251.6 109.3h0M254.5 108.7h0M252.1 112.1h0M255.0 111.6h0M141.0 211.9h0M138.1 211.7h0M139.3 214.3h0M195.2 34.3h0M198.1 34.1h0M196.5 31.7h0M199.4 31.5h0M116.5 137.7h0M116.2 134.8h0M113.9 136.5h0M73.6 214.5h0M76.4 213.8h0M103.9 152.8h0M106.7 152.0h0M130.4 94.8h0M127.5 95.0h0M129.2 97.4h0M227.1 45.6h0M229.9 44.8h0M227.8 42.8h0M230.6 42.0h0M90.9 181.6h0M88.1 182.5h0M90.0 178.9h0M87.2 179.7h0M210.7 46.2h0M210.2 49.0h0M212.9 48.1h0M212.4 50.9h0M211.1 83.1h0M211.7 85.9h0M220.1 68.6h0M219.6 71.4h0M199.4 65.6h0M199.6 62.7h0M197.0 64.0h0M128.0 112.7h0M128.2 115.6h0M130.6 113.9h0M210.8 149.7h0M210.3 146.9h0M208.1 148.7h0M207.6 145.9h0M105.2 230.6h0M108.0 231.2h0M107.1 228.5h0M218.6 150.1h0M219.0 147.2h0M221.5 150.4h0M221.9 147.5h0M217.4 174.7h0M214.6 175.6h0M243.8 51.8h0M246.6 52.6h0M243.0 54.5h0M245.8 55.4h0M173.7 83.2h0M173.1 86.0h0M175.8 85.2h0M287.2 94.4h0M287.8 91.6h0M285.0 92.5h0M262.0 91.5h0M262.7 88.7h0M81.5 206.1h0M78.7 206.5h0M81.2 203.3h0M78.3 203.7h0M61.6 236.5h0M60.8 233.7h0M58.8 235.7h0M73.2 205.4h0M73.9 202.6h0M71.1 203.4h0M111.7 230.1h0M111.3 232.9h0M114.0 231.9h0M113.5 234.8h0M195.7 92.1h0M192.8 92.1h0M145.0 103.1h0M142.2 103.8h0M237.8 65.4h0M234.9 66.1h0M236.9 68.2h0M259.7 135.3h0M259.4 132.4h0M181.4 84.4h0M178.5 84.6h0M180.1 87.0h0M231.6 50.4h0M231.0 47.5h0M228.8 49.5h0M198.5 79.3h0M199.3 82.1h0M200.2 84.9h0M201.3 80.0h0M202.1 82.8h0M153.0 98.2h0M152.4 101.0h0M151.7 103.8h0M155.1 100.1h0M154.5 103.0h0M65.6 225.5h0M65.7 222.6h0M187.2 86.2h0M188.0 89.0h0M184.4 86.9h0M185.2 89.7h0M235.1 148.2h0M235.3 145.3h0M232.7 146.7h0M60.6 222.9h0M57.8 223.6h0M59.7 225.7h0M201.9 157.6h0M199.1 156.8h0M202.7 154.8h0M199.9 154.0h0M197.0 74.6h0M199.9 74.1h0M131.8 223.4h0M131.3 220.6h0M129.1 222.5h0M128.6 219.6h0M134.0 98.4h0M136.8 97.6h0M134.7 95.6h0M137.5 94.8h0M256.5 99.2h0M256.6 102.1h0M103.7 125.2h0M100.8 125.2h0M102.2 127.7h0M157.2 108.6h0M156.7 111.4h0M159.4 110.4h0M206.3 80.8h0M206.4 83.7h0M116.9 230.8h0M119.7 231.6h0M119.0 228.8h0M90.2 184.2h0M93.0 183.4h0M246.4 35.3h0M243.6 35.8h0M245.4 38.0h0M242.5 38.4h0M250.6 125.2h0M250.9 122.4h0M248.2 123.5h0M151.5 211.3h0M154.3 211.2h0M152.8 208.8h0M277.2 105.5h0M278.0 108.3h0M252.6 66.1h0M252.6 63.2h0M250.1 64.6h0M92.8 190.1h0M92.4 187.2h0M90.1 189.0h0M120.0 235.6h0M120.8 238.4h0M122.8 236.4h0M141.3 121.4h0M141.4 124.3h0M138.4 121.6h0M138.6 124.5h0M125.9 105.2h0M126.0 108.1h0M128.4 106.5h0M241.3 64.6h0M241.3 67.5h0M95.2 149.7h0M95.1 152.6h0M97.6 151.2h0M271.3 65.7h0M274.2 65.8h0M272.8 63.3h0M157.2 205.2h0M160.0 205.9h0M162.9 206.5h0M159.2 203.1h0M162.0 203.8h0M242.9 106.4h0M240.0 106.0h0M241.1 108.7h0M238.0 141.7h0M238.7 144.5h0M240.8 142.5h0M77.2 229.3h0M80.0 230.1h0M76.4 232.1h0M79.2 232.9h0M173.6 74.1h0M176.4 74.7h0M198.4 175.9h0M201.3 175.8h0M199.8 173.4h0M211.0 153.8h0M213.9 154.1h0M247.1 59.9h0M247.8 62.7h0M115.3 240.0h0M112.5 240.8h0M114.5 237.3h0M111.7 238.0h0M109.0 177.3h0M106.1 177.3h0M50.8 241.6h0M53.6 240.8h0M56.4 240.1h0M51.6 238.8h0M54.4 238.1h0M187.5 168.2h0M187.7 171.1h0M184.6 168.4h0M184.8 171.3h0M176.6 192.3h0M177.2 189.5h0M174.4 190.4h0M189.8 195.9h0M187.0 196.5h0M189.0 198.7h0M151.4 112.0h0M154.3 112.6h0M153.4 109.8h0M79.2 199.9h0M76.4 199.3h0M79.8 197.0h0M77.0 196.4h0M182.4 187.1h0M179.6 188.0h0M247.5 96.2h0M247.7 99.1h0M247.9 102.0h0M250.1 97.5h0M250.3 100.4h0M104.5 240.9h0M107.3 241.6h0M119.7 200.2h0M122.6 199.6h0M172.6 195.2h0M175.4 196.0h0M165.3 111.1h0M168.2 111.4h0M171.1 111.8h0M167.1 108.8h0M169.9 109.1h0M263.0 74.1h0M260.1 74.5h0M59.4 239.6h0M58.6 242.4h0M57.8 245.2h0M61.4 241.7h0M60.6 244.5h0M128.4 131.2h0M128.8 134.1h0M131.1 132.4h0M272.5 75.6h0M271.7 72.8h0M211.7 72.1h0M208.9 72.8h0M211.1 69.3h0M208.2 70.0h0M208.9 169.3h0M211.7 168.8h0M209.9 166.6h0M212.7 166.1h0M85.9 225.1h0M83.1 225.9h0M230.7 137.8h0M230.2 135.0h0M275.7 68.9h0M278.5 68.2h0M87.2 186.2h0M84.4 185.6h0M85.3 188.4h0M231.4 128.4h0M234.2 127.7h0M232.2 125.6h0M235.0 124.9h0M195.3 70.0h0M195.7 67.1h0M211.3 57.0h0M208.5 56.5h0M105.9 160.8h0M103.0 160.9h0M68.5 244.9h0M69.1 242.0h0M66.4 242.9h0M156.3 143.7h0M153.4 144.2h0M236.9 61.2h0M234.1 60.5h0M237.6 58.3h0M234.8 57.7h0M83.7 172.8h0M86.6 173.0h0M195.1 61.8h0M192.3 61.2h0M193.1 63.9h0M134.7 161.1h0M134.4 164.0h0M137.0 162.9h0M198.4 93.7h0M198.3 96.6h0M93.6 225.8h0M90.7 226.0h0M92.2 228.4h0M70.7 219.7h0M73.6 220.1h0M72.5 217.4h0M90.3 244.1h0M93.2 243.9h0M125.8 227.0h0M128.6 226.2h0M126.5 224.2h0M144.1 131.8h0M141.3 130.9h0M219.0 143.5h0M221.9 143.1h0M220.1 140.8h0M224.4 176.3h0M224.8 173.4h0M222.2 174.5h0M146.4 208.1h0M146.6 205.2h0M221.2 134.8h0M224.0 134.0h0M184.8 163.7h0M181.9 163.3h0M183.1 166.0h0M205.2 128.3h0M208.1 128.4h0M202.2 95.4h0M205.0 96.1h0M215.2 69.5h0M215.7 72.4h0M116.3 148.5h0M119.2 148.0h0M205.0 141.2h0M202.2 141.8h0M238.1 86.5h0M238.9 83.7h0M117.0 225.2h0M114.1 225.4h0M115.7 227.8h0M240.1 60.9h0M243.0 60.5h0M241.2 58.2h0M84.1 204.6h0M84.0 201.7h0M125.6 219.4h0M122.7 219.3h0M88.6 168.2h0M88.7 171.1h0M91.2 169.5h0M162.5 111.9h0M161.9 109.1h0M200.6 90.6h0M203.4 89.8h0M257.3 89.1h0M260.1 89.6h0M199.5 169.2h0M202.4 169.2h0M200.9 166.7h0M201.7 145.8h0M204.5 145.3h0M93.6 233.6h0M93.7 230.7h0M91.1 232.1h0M132.8 138.0h0M129.9 137.9h0M173.7 91.8h0M170.9 92.5h0M186.5 189.3h0M183.7 189.8h0M185.5 192.0h0M103.3 236.9h0M106.2 236.7h0M205.0 75.9h0M202.1 76.2h0M203.7 78.5h0M215.1 85.6h0M215.4 82.7h0M74.6 211.7h0M71.8 211.0h0M75.3 208.9h0M72.5 208.2h0M109.8 152.7h0M110.2 149.8h0M116.5 203.1h0M115.9 200.3h0M113.8 202.2h0M160.9 96.5h0M158.0 96.2h0M159.2 98.9h0M105.9 156.7h0M108.7 157.1h0M207.7 152.2h0M204.9 153.0h0M207.0 155.0h0M163.7 134.6h0M160.8 134.5h0M223.5 69.9h0M222.9 67.1h0M142.7 138.5h0M139.8 138.7h0M235.6 106.4h0M232.7 106.1h0M247.5 68.4h0M244.6 68.0h0M151.8 141.1h0M148.9 141.3h0M224.4 63.5h0M227.2 63.0h0M158.0 173.4h0M155.2 174.1h0M232.9 120.2h0M235.7 119.4h0M211.2 143.5h0M210.5 140.7h0M208.5 142.7h0M160.9 144.9h0M163.8 144.9h0M78.7 209.8h0M79.0 212.6h0M96.8 171.0h0M99.7 170.9h0M154.2 119.4h0M153.7 122.3h0M156.4 121.3h0M82.8 231.9h0M85.7 231.9h0M86.9 206.7h0M89.8 206.9h0M257.1 61.5h0M256.2 64.3h0M259.0 63.6h0M173.0 164.6h0M175.9 164.9h0M154.2 154.1h0M151.3 154.0h0M110.0 210.1h0M112.8 209.6h0M95.1 235.9h0M97.9 235.2h0M187.9 144.3h0M190.8 144.5h0M219.7 75.5h0M222.5 76.0h0M232.4 68.4h0M232.3 65.5h0M128.3 189.7h0M128.6 186.8h0M104.9 244.3h0M107.8 244.4h0M177.3 111.7h0M174.5 112.4h0M107.2 163.8h0M110.0 164.3h0M132.3 168.1h0M135.2 167.7h0M166.9 102.9h0M164.0 102.4h0M102.6 177.4h0M99.7 177.5h0M212.6 79.9h0M215.5 79.4h0M143.7 187.1h0M140.9 186.5h0M212.3 138.0h0M215.2 137.9h0M192.1 150.6h0M189.2 150.6h0M75.6 241.6h0M72.7 242.2h0M169.0 164.0h0M166.2 164.6h0M149.6 187.6h0M146.8 187.1h0M90.2 219.5h0M93.0 219.7h0M179.3 170.9h0M176.5 170.4h0M157.9 134.9h0M87.8 242.5h0M190.6 167.3h0M128.2 157.1h0M130.0 216.4h0M218.1 121.8h0M146.0 154.5h0M183.8 122.4h0M119.1 219.9h0M198.1 131.9h0M189.3 174.3h0M220.6 127.7h0M193.0 118.5h0M158.1 151.1h0M215.8 128.0h0M145.5 138.2h0M96.8 177.5h0M136.6 186.4h0M210.3 95.4h0M141.8 160.9h0M95.8 190.7h0M173.3 151.0h0M150.2 206.0h0M195.6 144.4h0M131.5 186.4h0M108.9 226.1h0M148.6 154.4h0M96.0 183.2h0M87.0 200.0h0M178.3 118.7h0M96.2 245.6h0M80.3 227.1h0M182.1 144.9h0M98.6 196.4h0M130.0 145.2h0M229.8 106.1h0M185.0 143.7h0M125.1 206.9h0M225.6 121.9h0M155.4 140.7h0M220.7 122.8h0M109.5 202.7h0M128.5 207.0h0M134.4 197.1h0M86.2 244.7h0M130.2 164.4h0M131.7 196.8h0M186.6 174.0h0M247.1 65.8h0M195.8 118.9h0M116.5 222.6h0M137.7 160.2h0M138.3 197.0h0M112.1 158.4h0M63.7 243.0h0M189.3 92.3h0M211.6 128.5h0M170.6 102.3h0M64.7 245.7h0M192.6 137.8h0M186.8 186.3h0M137.3 137.6h0M198.4 146.4h0M84.0 199.1h0M131.9 157.8h0M145.2 173.4h0M179.4 144.1h0M112.5 179.9h0M154.0 206.1h0M112.3 199.2h0M154.6 125.8h0M84.6 228.1h0M173.7 183.1h0M133.9 187.5h0M189.5 184.4h0M173.7 137.8h0M154.2 151.1h0M203.0 86.1h0M125.5 189.7h0M119.0 141.0h0M195.4 131.2h0M91.9 241.5h0M222.1 130.4h0M202.2 129.0h0M119.5 226.1h0M207.6 96.6h0M132.7 144.1h0M195.6 96.4h0M182.1 170.3h0M158.2 140.9h0M136.8 165.6h0M186.5 121.6h0M187.0 165.4h0M201.0 148.9h0M176.4 186.9h0" class="di"/>
<path id="dr" d="M499.6 52.6h0M497.5 58.6h0M493.5 65.7h0M498.5 67.8h0M502.6 64.7h0M527.4 46.9h0M529.0 56.6h0M526.0 62.7h0M528.6 62.3h0M514.8 71.8h0M519.9 70.8h0M521.9 70.4h0M531.0 55.9h0M530.0 62.0h0M545.3 63.0h0M547.4 64.1h0M551.5 60.0h0M553.5 62.0h0M554.1 59.5h0M559.6 56.9h0M560.7 58.5h0M558.6 68.2h0M560.7 68.2h0M545.3 71.2h0M552.5 71.2h0M554.5 70.8h0M568.8 62.0h0M571.9 62.0h0M570.9 65.1h0M572.9 67.1h0M573.9 69.2h0M582.1 64.1h0M583.1 65.6h0M592.3 59.0h0M594.4 57.9h0M593.4 62.0h0M593.4 65.1h0M591.3 68.2h0M590.3 69.2h0M598.5 61.4h0M604.6 62.0h0M605.6 64.1h0M606.6 67.5h0M608.7 68.2h0M403.6 117.7h0M413.3 114.6h0M429.6 109.5h0M430.6 112.6h0M441.3 106.9h0M439.7 115.6h0M441.3 113.0h0M438.1 126.4h0M440.7 126.4h0M448.2 127.2h0M451.9 125.8h0M453.9 123.4h0M455.9 108.1h0M460.0 126.4h0M463.0 126.8h0M466.1 126.8h0M464.0 109.5h0M466.8 109.5h0M470.1 108.5h0M469.7 105.9h0M465.1 100.8h0M471.2 90.9h0M473.8 96.8h0M477.2 98.0h0M479.7 95.9h0M480.9 81.7h0M488.0 76.1h0M494.1 75.0h0M496.6 74.4h0M512.8 74.4h0M515.4 73.6h0M513.8 76.6h0M520.9 73.0h0M518.8 79.7h0M495.5 86.2h0M497.5 88.2h0M501.6 85.2h0M503.6 87.8h0M505.7 89.9h0M502.6 82.6h0M517.8 87.8h0M520.9 88.2h0M523.9 85.2h0M525.9 87.2h0M582.1 74.5h0M588.2 79.2h0M590.3 81.2h0M591.3 78.1h0M584.2 86.3h0M586.7 85.3h0M600.5 86.3h0M603.6 84.3h0M606.1 83.2h0M604.6 86.8h0M605.6 91.4h0M607.7 93.4h0M607.7 96.5h0M610.7 98.5h0M611.8 96.0h0M595.4 96.9h0M583.1 96.1h0M579.0 99.6h0M581.1 101.6h0M591.3 102.7h0M603.6 104.7h0M605.6 106.7h0M614.8 103.7h0M616.9 105.2h0M617.9 102.7h0M579.0 104.7h0M582.1 105.7h0M585.2 106.7h0M587.2 108.3h0M590.3 108.8h0M593.4 109.8h0M596.4 108.8h0M599.5 109.8h0M604.6 110.8h0M610.7 108.8h0M612.8 110.8h0M611.3 113.4h0M585.2 111.9h0M588.2 113.9h0M590.3 112.4h0M589.3 126.2h0M595.4 129.2h0M586.2 130.2h0M404.2 135.1h0M411.3 137.1h0M411.3 139.5h0M423.5 138.1h0M405.2 145.2h0M407.7 144.2h0M406.2 147.3h0M413.3 153.7h0M409.3 168.5h0M414.3 168.5h0M434.6 132.0h0M435.6 134.4h0M559.6 133.0h0M565.8 133.5h0M565.2 136.0h0M585.6 131.4h0M595.4 131.0h0M583.5 138.2h0M549.4 148.4h0M554.5 145.7h0M563.7 146.9h0M532.0 154.5h0M535.1 152.5h0M538.2 155.1h0M536.1 157.6h0M533.1 159.6h0M537.2 160.6h0M530.0 156.5h0M533.1 165.7h0M538.2 168.8h0M554.1 159.6h0M561.7 161.7h0M565.2 161.7h0M580.7 158.6h0M595.0 159.6h0M606.6 159.6h0M607.7 152.5h0M563.7 183.1h0M490.7 198.1h0M493.8 197.1h0M498.5 199.6h0M488.0 191.0h0M470.5 206.2h0M472.2 208.8h0M489.0 215.4h0M486.8 228.6h0M462.0 218.4h0M463.0 221.5h0M456.3 223.5h0M457.6 226.1h0M467.7 225.1h0M469.6 222.5h0M444.2 231.6h0M446.7 230.6h0M436.7 236.1h0M437.7 238.7h0M415.4 237.7h0M556.2 191.5h0M405.6 232.3h0M408.8 232.3h0M412.0 232.5h0M415.3 232.4h0M418.4 232.3h0M408.7 229.1h0M411.9 229.1h0M415.3 229.3h0M418.3 229.0h0M421.7 229.3h0M424.8 229.0h0M412.1 225.9h0M415.1 225.9h0M418.5 225.9h0M421.5 226.0h0M405.7 222.7h0M408.8 222.8h0M412.0 222.7h0M415.3 222.7h0M418.3 222.8h0M421.7 222.6h0M424.7 222.6h0M434.3 222.6h0M418.3 219.4h0M421.5 219.5h0M424.8 219.5h0M428.1 219.5h0M431.2 219.5h0M434.5 219.3h0M437.7 219.5h0M415.2 216.0h0M418.4 216.2h0M421.5 216.2h0M424.8 216.2h0M428.0 216.2h0M431.3 216.2h0M434.5 216.2h0M437.5 216.2h0M440.8 216.0h0M444.1 216.1h0M428.1 212.8h0M431.3 213.0h0M434.5 213.0h0M437.5 212.8h0M440.8 213.0h0M444.1 212.8h0M447.2 212.9h0M418.5 209.6h0M421.6 209.7h0M431.2 209.8h0M434.5 209.6h0M437.7 209.7h0M440.9 209.6h0M418.3 206.3h0M421.5 206.5h0M424.7 206.3h0M428.0 206.3h0M431.3 206.4h0M434.5 206.5h0M437.7 206.3h0M440.8 206.4h0M444.0 206.5h0M447.2 206.5h0M450.4 206.3h0M453.5 206.4h0M421.7 203.3h0M424.7 203.1h0M428.0 203.0h0M431.1 203.1h0M434.3 203.0h0M437.6 203.1h0M440.9 203.3h0M444.1 203.1h0M447.3 203.1h0M421.5 199.9h0M424.7 199.8h0M428.1 200.0h0M431.1 199.9h0M434.5 199.8h0M437.5 199.8h0M440.9 199.9h0M444.0 200.0h0M447.2 199.8h0M450.4 199.8h0M453.6 199.9h0M456.9 200.0h0M460.0 200.0h0M463.2 199.8h0M466.5 199.8h0M424.9 196.7h0M427.9 196.6h0M431.1 196.6h0M434.5 196.6h0M437.6 196.6h0M440.9 196.6h0M444.0 196.7h0M447.1 196.5h0M450.4 196.7h0M453.5 196.6h0M456.9 196.7h0M440.8 193.3h0M444.1 193.5h0M447.2 193.4h0M450.4 193.5h0M453.6 193.5h0M456.8 193.4h0M460.1 193.3h0M463.2 193.3h0M466.3 193.5h0M469.5 193.5h0M472.7 193.5h0M476.0 193.5h0M479.1 193.4h0M482.5 193.3h0M431.3 190.1h0M443.9 190.1h0M447.1 190.0h0M450.4 190.1h0M453.7 190.2h0M456.9 190.3h0M459.9 190.2h0M463.3 190.2h0M466.3 190.1h0M469.6 190.1h0M472.9 190.1h0M476.1 190.0h0M479.3 190.3h0M421.7 187.0h0M424.9 186.8h0M428.1 186.9h0M431.2 186.8h0M434.3 186.8h0M437.6 186.8h0M440.7 186.8h0M443.9 186.8h0M447.1 187.0h0M450.4 186.9h0M453.6 187.0h0M456.9 187.0h0M460.1 187.0h0M463.3 186.8h0M466.4 186.8h0M469.7 186.8h0M472.9 186.8h0M476.0 187.0h0M479.2 186.8h0M482.3 187.0h0M485.5 186.9h0M427.9 183.6h0M431.3 183.5h0M434.3 183.6h0M437.5 183.7h0M440.8 183.5h0M444.1 183.7h0M447.1 183.6h0M450.3 183.7h0M453.6 183.7h0M456.7 183.8h0M460.1 183.6h0M463.1 183.6h0M466.5 183.5h0M469.6 183.7h0M472.7 183.5h0M475.9 183.6h0M479.3 183.7h0M488.7 183.8h0M491.9 183.6h0M440.9 180.3h0M444.0 180.4h0M447.1 180.3h0M450.5 180.3h0M453.6 180.5h0M456.7 180.3h0M460.0 180.4h0M463.1 180.5h0M466.5 180.4h0M469.5 180.5h0M472.7 180.5h0M476.0 180.5h0M485.5 180.5h0M488.9 180.3h0M492.1 180.5h0M495.1 180.3h0M498.3 180.5h0M501.5 180.5h0M437.7 177.1h0M440.9 177.3h0M443.9 177.1h0M447.2 177.0h0M450.4 177.1h0M456.9 177.1h0M460.0 177.2h0M463.1 177.1h0M466.5 177.2h0M469.7 177.0h0M472.8 177.1h0M476.1 177.1h0M479.1 177.0h0M482.4 177.1h0M485.5 177.2h0M488.9 177.1h0M492.0 177.3h0M495.3 177.3h0M498.5 177.1h0M501.6 177.1h0M444.0 173.9h0M447.3 173.9h0M450.4 174.0h0M453.7 173.9h0M456.8 173.9h0M460.0 173.8h0M463.1 173.8h0M466.4 173.8h0M469.7 173.9h0M472.7 174.0h0M476.1 173.8h0M479.3 173.9h0M482.5 174.0h0M485.6 174.0h0M488.7 174.0h0M492.1 174.0h0M495.2 173.8h0M498.4 173.8h0M501.6 174.0h0M504.8 174.0h0M507.9 173.9h0M440.9 170.8h0M444.1 170.5h0M447.3 170.6h0M450.4 170.6h0M453.7 170.6h0M456.7 170.5h0M459.9 170.6h0M463.3 170.7h0M466.5 170.8h0M469.7 170.7h0M472.8 170.7h0M476.0 170.6h0M479.2 170.6h0M482.4 170.6h0M485.6 170.7h0M488.7 170.5h0M492.1 170.7h0M495.1 170.7h0M498.5 170.6h0M443.9 167.4h0M447.2 167.5h0M450.5 167.5h0M453.5 167.5h0M456.7 167.3h0M460.0 167.3h0M463.1 167.5h0M466.3 167.4h0M469.5 167.4h0M479.3 167.4h0M482.5 167.3h0M485.5 167.3h0M488.8 167.5h0M491.9 167.3h0M495.1 167.3h0M498.4 167.5h0M501.6 167.5h0M504.8 167.5h0M508.0 167.5h0M511.2 167.4h0M443.9 164.1h0M447.1 164.2h0M450.4 164.1h0M453.5 164.2h0M456.7 164.2h0M460.1 164.1h0M463.2 164.2h0M466.4 164.2h0M469.7 164.1h0M472.8 164.1h0M479.1 164.1h0M482.3 164.1h0M485.5 164.1h0M488.9 164.2h0M491.9 164.0h0M495.2 164.2h0M498.4 164.0h0M501.6 164.2h0M443.9 160.9h0M447.2 160.9h0M450.4 160.8h0M453.5 161.0h0M456.7 160.8h0M469.6 160.8h0M472.9 160.9h0M476.1 160.9h0M479.1 161.0h0M482.3 160.9h0M485.6 160.8h0M488.8 160.8h0M492.1 161.0h0M495.1 160.8h0M498.5 161.0h0M501.5 160.9h0M504.9 161.0h0M508.0 161.0h0M511.3 160.9h0M514.4 161.0h0M460.1 157.7h0M463.2 157.6h0M466.3 157.6h0M469.7 157.7h0M475.9 157.6h0M479.1 157.7h0M482.4 157.7h0M485.7 157.6h0M488.9 157.7h0M492.0 157.5h0M495.1 157.6h0M498.4 157.6h0M501.5 157.6h0M504.7 157.6h0M456.8 154.4h0M460.0 154.5h0M463.3 154.3h0M469.5 154.4h0M472.9 154.3h0M475.9 154.3h0M479.2 154.5h0M482.4 154.3h0M485.7 154.3h0M488.8 154.4h0M492.1 154.5h0M495.2 154.5h0M498.4 154.5h0M501.5 154.4h0M504.9 154.5h0M508.1 154.4h0M511.1 154.5h0M514.3 154.5h0M453.7 151.2h0M456.7 151.3h0M460.1 151.2h0M463.3 151.2h0M466.5 151.2h0M469.6 151.2h0M472.8 151.0h0M476.0 151.0h0M479.3 151.0h0M482.3 151.2h0M485.5 151.1h0M488.8 151.3h0M492.1 151.0h0M495.1 151.1h0M498.5 151.2h0M501.7 151.2h0M504.8 151.2h0M508.0 151.2h0M511.2 151.0h0M466.5 148.0h0M469.5 147.8h0M472.7 147.8h0M488.7 147.8h0M492.1 148.0h0M495.1 148.0h0M498.3 147.8h0M501.6 147.8h0M504.9 148.0h0M508.1 147.9h0M511.2 148.0h0M514.5 148.0h0M463.2 144.7h0M466.5 144.8h0M469.5 144.7h0M472.8 144.7h0M475.9 144.6h0M479.2 144.6h0M482.5 144.6h0M485.6 144.5h0M504.8 144.6h0M508.0 144.7h0M511.2 144.8h0M514.5 144.8h0M517.5 144.6h0M466.4 141.5h0M469.6 141.3h0M472.9 141.3h0M476.1 141.3h0M479.1 141.4h0M482.5 141.4h0M485.6 141.3h0M488.9 141.3h0M491.9 141.3h0M495.1 141.3h0M498.3 141.3h0M501.7 141.4h0M504.9 141.4h0M508.0 141.4h0M511.3 141.3h0M514.3 141.4h0M517.6 141.4h0M520.8 141.5h0M466.4 138.1h0M469.5 138.0h0M472.7 138.1h0M475.9 138.1h0M479.3 138.3h0M482.5 138.2h0M485.7 138.3h0M488.7 138.1h0M492.1 138.3h0M495.2 138.1h0M498.5 138.0h0M501.7 138.1h0M504.9 138.2h0M508.0 138.3h0M517.6 138.2h0M520.9 138.1h0M524.0 138.2h0M527.3 138.2h0M475.9 134.9h0M479.3 134.9h0M482.5 134.8h0M485.7 135.0h0M488.9 134.8h0M491.9 134.9h0M495.1 134.9h0M498.4 135.0h0M501.5 134.9h0M504.9 135.0h0M507.9 135.0h0M511.2 135.0h0M514.3 135.0h0M517.7 135.0h0M520.8 134.8h0M523.9 134.9h0M527.1 135.0h0M530.3 134.9h0M533.6 135.0h0M536.8 134.8h0M466.4 131.7h0M469.6 131.7h0M472.9 131.7h0M476.1 131.7h0M479.3 131.8h0M482.4 131.6h0M485.7 131.6h0M488.7 131.5h0M492.1 131.5h0M501.6 131.6h0M504.7 131.7h0M508.0 131.6h0M511.1 131.7h0M514.3 131.7h0M517.5 131.5h0M520.8 131.8h0M524.0 131.5h0M527.2 131.7h0M530.5 131.5h0M533.6 131.5h0M482.5 128.5h0M485.5 128.3h0M488.7 128.4h0M491.9 128.5h0M495.3 128.3h0M498.3 128.3h0M501.5 128.3h0M504.7 128.5h0M508.0 128.4h0M511.3 128.5h0M514.5 128.4h0M517.6 128.3h0M527.1 128.5h0M530.4 128.5h0M533.6 128.4h0M501.5 125.1h0M504.7 125.0h0M508.0 125.3h0M511.1 125.1h0M514.5 125.2h0M517.6 125.2h0M501.7 121.9h0M504.8 121.9h0M508.0 122.0h0M511.2 121.8h0M543.3 122.0h0M546.5 121.9h0M508.0 118.7h0M511.1 118.7h0M514.5 118.6h0M540.1 118.8h0M543.2 118.8h0M546.5 118.7h0M549.7 118.7h0M498.3 115.3h0M501.6 115.4h0M543.2 115.3h0M546.5 115.3h0M549.5 115.4h0M511.1 112.1h0M514.3 112.2h0M517.7 112.2h0M546.3 112.0h0M549.6 112.1h0M495.2 108.8h0M498.5 109.0h0M507.9 105.7h0M511.2 105.7h0M514.3 105.7h0M517.7 105.7h0M511.3 102.3h0M514.4 102.3h0M504.7 99.2h0M508.1 99.1h0M511.2 99.0h0M514.5 99.1h0M517.5 99.1h0M536.8 95.8h0M540.1 95.8h0M543.2 96.0h0M546.3 95.9h0M417.5 194.3h0M418.1 197.1h0M420.2 195.2h0M527.2 93.5h0M524.3 93.2h0M527.5 90.6h0M524.6 90.4h0M461.3 134.0h0M461.6 136.9h0M463.9 135.2h0M469.0 116.3h0M469.8 113.6h0M471.8 117.2h0M472.6 114.4h0M562.8 125.1h0M561.9 122.4h0M560.0 124.5h0M405.2 191.6h0M404.4 188.8h0M539.2 88.1h0M536.4 88.7h0M538.3 90.8h0M456.2 147.4h0M456.7 144.5h0M457.2 141.7h0M454.0 145.5h0M454.5 142.7h0M507.1 84.1h0M509.9 84.4h0M508.8 81.8h0M555.5 116.9h0M555.3 114.0h0M558.4 116.7h0M558.2 113.8h0M525.5 152.9h0M525.9 150.0h0M528.3 153.3h0M528.8 150.5h0M434.2 165.6h0M437.0 164.8h0M524.2 111.8h0M521.3 112.1h0M523.9 108.9h0M521.0 109.2h0M491.4 119.4h0M492.0 122.2h0M494.1 120.3h0M494.7 123.1h0M568.5 85.3h0M571.4 85.2h0M569.9 82.7h0M542.8 128.6h0M542.4 131.5h0M545.1 130.4h0M533.2 92.6h0M530.3 93.1h0M532.1 95.3h0M558.8 107.8h0M559.0 110.7h0M555.9 108.0h0M556.1 110.9h0M462.2 205.2h0M462.2 208.1h0M459.3 205.2h0M459.3 208.1h0M528.8 107.6h0M528.7 110.5h0M531.2 109.1h0M531.2 112.0h0M543.3 104.8h0M542.9 107.6h0M545.6 106.6h0M545.1 109.4h0M486.6 103.5h0M487.4 106.3h0M489.4 104.3h0M490.1 107.1h0M479.6 199.8h0M476.7 199.2h0M473.9 198.5h0M477.6 201.9h0M474.7 201.2h0M442.0 148.4h0M439.1 148.8h0M440.9 151.1h0M558.5 77.8h0M558.3 80.7h0M560.9 79.5h0M560.6 82.4h0M514.9 177.7h0M517.8 177.9h0M516.5 175.3h0M537.9 103.5h0M538.4 106.3h0M540.6 104.4h0M537.1 122.8h0M534.2 122.3h0M535.2 125.0h0M532.4 124.5h0M560.0 95.0h0M557.2 95.8h0M515.1 92.7h0M518.0 92.9h0M514.9 95.6h0M517.8 95.8h0M551.9 126.5h0M554.8 126.5h0M553.3 124.0h0M436.2 146.4h0M435.8 143.6h0M529.5 145.1h0M529.9 142.3h0M532.4 145.5h0M532.8 142.6h0M459.1 220.7h0M459.1 217.8h0M456.6 219.3h0M482.2 100.4h0M482.8 103.2h0M484.9 101.3h0M432.1 236.7h0M432.7 233.8h0M429.9 234.7h0M549.3 77.0h0M546.5 77.3h0M548.2 79.6h0M415.4 185.2h0M416.1 188.0h0M566.7 104.3h0M566.8 107.2h0M566.9 110.1h0M569.2 105.6h0M569.3 108.5h0M485.4 196.0h0M488.2 196.8h0M509.5 178.9h0M506.7 178.7h0M507.9 181.3h0M505.0 181.1h0M524.0 159.9h0M521.2 160.7h0M523.3 162.7h0M468.5 101.4h0M471.4 101.0h0M519.4 182.1h0M516.5 181.7h0M526.3 98.5h0M525.9 101.4h0M528.6 100.3h0M489.7 113.8h0M486.8 114.3h0M489.1 110.9h0M486.3 111.5h0M480.2 117.5h0M477.3 117.9h0M474.4 118.3h0M479.0 120.2h0M476.2 120.6h0M531.6 86.3h0M528.7 86.0h0M529.9 88.7h0M497.2 101.2h0M497.3 104.1h0M544.9 138.0h0M544.3 140.9h0M542.0 137.5h0M541.4 140.3h0M567.5 95.2h0M568.1 98.0h0M518.1 160.2h0M517.5 163.1h0M452.2 215.6h0M449.3 215.0h0M450.2 217.8h0M447.4 217.2h0M406.0 214.5h0M405.6 211.6h0M408.9 214.1h0M408.4 211.2h0M439.4 223.6h0M442.1 222.9h0M440.1 220.8h0M473.5 110.9h0M476.4 110.9h0M479.3 111.0h0M475.0 108.4h0M477.9 108.5h0M520.1 168.1h0M517.2 168.4h0M514.3 168.7h0M518.9 170.8h0M516.0 171.1h0M539.0 129.1h0M538.4 126.2h0M536.2 128.1h0M445.1 150.5h0M444.5 153.3h0M531.6 175.3h0M528.7 175.5h0M530.3 177.9h0M527.4 178.1h0M548.7 89.8h0M551.5 90.5h0M550.7 87.7h0M534.3 116.0h0M537.2 116.1h0M535.8 113.5h0M538.7 113.7h0M505.0 95.7h0M507.9 96.2h0M506.8 93.5h0M509.7 93.9h0M488.9 124.2h0M486.0 124.1h0M514.2 189.5h0M517.0 188.8h0M519.7 188.0h0M514.9 186.8h0M517.7 186.0h0M439.5 158.0h0M442.4 157.6h0M441.5 225.8h0M444.4 226.0h0M441.3 228.7h0M444.2 228.9h0M452.0 140.9h0M452.0 138.0h0M415.1 198.0h0M412.3 198.7h0M414.3 200.8h0M558.2 136.8h0M558.7 139.6h0M559.2 142.5h0M560.9 137.8h0M561.4 140.6h0M576.6 78.8h0M576.8 75.9h0M574.2 77.2h0M529.2 119.8h0M528.4 122.6h0M562.0 100.7h0M561.5 97.9h0M565.4 127.0h0M562.7 127.8h0M564.8 129.8h0M406.1 241.4h0M403.3 240.8h0M408.0 235.5h0M408.8 238.2h0M410.8 236.2h0M411.6 239.0h0M501.7 185.5h0M502.5 188.3h0M504.5 186.2h0M505.3 189.0h0M407.5 182.1h0M410.4 182.4h0M407.2 185.0h0M410.1 185.3h0M461.9 97.6h0M464.8 97.5h0M516.6 157.4h0M517.1 154.6h0M543.9 82.8h0M543.7 79.9h0M543.4 77.0h0M541.3 81.6h0M541.0 78.7h0M432.7 171.1h0M429.8 171.4h0M431.5 173.7h0M428.6 174.0h0M463.4 211.3h0M466.3 211.4h0M465.0 208.8h0M554.9 100.5h0M555.0 103.4h0M557.5 101.9h0M437.7 152.6h0M438.0 155.5h0M434.8 152.9h0M435.1 155.8h0M522.9 123.2h0M520.0 123.3h0M521.6 125.7h0M526.8 74.6h0M526.2 71.7h0M529.6 74.0h0M529.1 71.2h0M486.0 88.0h0M488.8 87.2h0M447.9 137.3h0M448.4 134.5h0M549.0 96.3h0M551.9 95.9h0M550.1 93.6h0M553.0 93.3h0M548.1 83.8h0M550.9 84.5h0M550.1 81.7h0M552.9 82.4h0M513.8 89.0h0M514.5 86.2h0M511.7 87.0h0M574.5 95.1h0M571.6 95.7h0M526.9 144.3h0M527.4 147.1h0M524.1 144.8h0M524.6 147.6h0M486.2 117.8h0M489.1 117.4h0M503.7 110.6h0M504.4 107.8h0M501.6 108.6h0M489.6 95.8h0M489.7 92.9h0M492.5 96.0h0M492.6 93.1h0M474.1 123.3h0M471.3 124.0h0M473.3 126.1h0M496.1 189.8h0M495.9 187.0h0M496.3 90.6h0M496.9 93.4h0M463.5 120.8h0M460.7 121.7h0M462.8 123.7h0M531.4 82.2h0M528.5 82.1h0M531.4 79.3h0M528.5 79.2h0M559.2 88.2h0M559.4 85.3h0M562.1 88.4h0M562.3 85.5h0M534.0 139.7h0M531.1 139.4h0M537.4 111.0h0M540.3 110.8h0M534.7 106.2h0M534.5 103.3h0M532.1 104.9h0M430.9 176.9h0M428.0 177.2h0M429.8 179.5h0M426.9 179.9h0M418.0 180.6h0M420.9 180.6h0M418.0 183.5h0M420.9 183.5h0M429.4 226.1h0M432.2 226.7h0M431.4 224.0h0M456.2 213.6h0M455.6 210.7h0M453.5 212.7h0M506.6 116.1h0M509.5 116.3h0M508.2 113.7h0M526.0 120.1h0M525.9 117.3h0M448.4 152.7h0M451.3 152.5h0M449.6 150.1h0M499.2 97.3h0M499.6 94.4h0M458.5 137.3h0M455.6 137.8h0M457.9 134.4h0M455.1 135.0h0M516.0 115.2h0M518.9 115.3h0M416.1 211.1h0M415.6 208.3h0M546.7 99.5h0M547.0 102.4h0M549.3 100.7h0M513.5 83.1h0M513.4 80.2h0M423.2 233.8h0M422.9 236.7h0M422.6 239.6h0M425.6 235.5h0M425.2 238.4h0M499.8 102.4h0M502.6 103.2h0M501.9 100.4h0M492.6 187.1h0M489.7 187.6h0M540.0 98.9h0M537.1 98.8h0M498.7 112.2h0M501.6 112.5h0M514.8 164.2h0M511.9 164.0h0M548.0 107.5h0M550.9 107.9h0M549.8 105.2h0M552.7 105.6h0M482.7 180.1h0M482.1 183.0h0M491.7 81.9h0M491.2 84.7h0M493.9 83.7h0M410.2 216.5h0M407.5 217.4h0M409.6 219.3h0M452.0 208.7h0M449.1 208.7h0M450.6 211.2h0M520.8 99.6h0M520.5 102.5h0M523.1 101.4h0M470.4 201.1h0M470.5 198.2h0M561.5 115.9h0M564.4 116.2h0M563.2 113.6h0M427.4 190.0h0M424.5 190.3h0M426.2 192.6h0M423.3 192.8h0M536.2 81.8h0M536.2 84.7h0M538.7 83.2h0M449.4 155.5h0M449.1 158.4h0M451.7 157.2h0M417.2 191.2h0M420.0 191.8h0M419.2 189.1h0M483.2 92.5h0M482.4 95.3h0M495.3 112.0h0M492.4 111.7h0M493.6 114.3h0M437.7 190.9h0M434.9 190.5h0M436.0 193.1h0M403.3 224.3h0M403.0 227.2h0M402.7 230.1h0M405.6 226.0h0M405.4 228.9h0M416.4 202.7h0M419.2 202.0h0M417.2 199.9h0M516.0 121.3h0M518.7 120.4h0M540.1 150.0h0M537.2 150.2h0M552.1 132.1h0M549.3 131.5h0M552.7 129.2h0M549.8 128.7h0M472.0 129.0h0M474.9 128.8h0M517.6 151.4h0M520.5 150.7h0M518.5 148.6h0M440.2 162.7h0M440.2 165.6h0M547.0 127.4h0M547.2 124.5h0M544.6 125.8h0M498.3 81.6h0M497.5 84.3h0M481.8 124.6h0M479.0 124.4h0M480.2 127.0h0M499.5 118.0h0M496.7 118.6h0M470.1 119.4h0M467.3 119.8h0M469.1 122.1h0M466.2 122.5h0M434.5 179.4h0M437.3 180.1h0M536.3 138.3h0M536.9 141.1h0M539.0 139.2h0M404.3 220.3h0M404.2 217.4h0M401.7 218.9h0M401.7 216.0h0M402.4 237.8h0M405.2 237.0h0M403.1 235.0h0M499.9 145.0h0M497.0 145.0h0M483.4 147.1h0M480.5 147.6h0M438.0 168.9h0M438.4 171.7h0M468.0 195.7h0M465.2 196.1h0M489.9 192.9h0M492.8 193.1h0M491.5 190.5h0M424.9 213.1h0M424.9 210.2h0M533.5 119.5h0M536.4 120.0h0M509.0 108.9h0M511.9 108.9h0M470.7 134.3h0M467.8 134.3h0M528.0 125.6h0M525.2 125.0h0M532.6 100.9h0M532.9 98.0h0M465.1 205.2h0M464.4 202.4h0M481.5 121.2h0M484.4 121.1h0M482.7 196.4h0M479.9 196.1h0M500.3 88.5h0M500.1 91.4h0M466.8 160.8h0M464.0 161.4h0M435.0 226.9h0M437.9 227.2h0M436.7 224.5h0M464.6 129.4h0M461.7 129.2h0M505.4 118.9h0M502.6 118.0h0M461.3 202.6h0M458.4 202.5h0M463.0 139.2h0M460.1 139.8h0M462.1 142.0h0M422.1 212.8h0M419.2 212.5h0M476.2 167.1h0M475.7 164.3h0M489.6 144.9h0M492.5 144.2h0M467.7 206.8h0M468.0 203.9h0M439.8 174.6h0M436.9 174.5h0M428.3 209.6h0M485.0 183.9h0M454.4 157.6h0M512.0 138.1h0M506.4 165.2h0M505.3 104.9h0M476.6 125.7h0M463.7 147.7h0M496.6 182.7h0M443.8 209.7h0M425.6 225.1h0M498.1 125.4h0M505.6 112.7h0M455.2 204.1h0M497.1 121.4h0M451.4 203.0h0M501.4 171.0h0M491.2 125.9h0M420.5 234.4h0M496.1 131.8h0M416.8 235.1h0M507.6 102.2h0M430.0 193.9h0M518.2 108.9h0M483.6 190.9h0M504.2 171.1h0M466.2 154.4h0M504.2 163.6h0M415.5 205.6h0M461.4 160.6h0M412.9 219.9h0M504.4 177.0h0M460.9 197.5h0M428.1 222.6h0M432.9 193.8h0M476.3 196.5h0M499.0 131.3h0M440.9 189.6h0M461.2 146.6h0M438.0 161.0h0M507.1 170.9h0M446.4 210.2h0M477.8 128.2h0M472.3 157.0h0M472.5 120.9h0" class="do"/><path d="M499.6 52.6h0M497.5 58.6h0M493.5 65.7h0M498.5 67.8h0M502.6 64.7h0M527.4 46.9h0M529.0 56.6h0M526.0 62.7h0M528.6 62.3h0M514.8 71.8h0M519.9 70.8h0M521.9 70.4h0M531.0 55.9h0M530.0 62.0h0M545.3 63.0h0M547.4 64.1h0M551.5 60.0h0M553.5 62.0h0M554.1 59.5h0M559.6 56.9h0M560.7 58.5h0M558.6 68.2h0M560.7 68.2h0M545.3 71.2h0M552.5 71.2h0M554.5 70.8h0M568.8 62.0h0M571.9 62.0h0M570.9 65.1h0M572.9 67.1h0M573.9 69.2h0M582.1 64.1h0M583.1 65.6h0M592.3 59.0h0M594.4 57.9h0M593.4 62.0h0M593.4 65.1h0M591.3 68.2h0M590.3 69.2h0M598.5 61.4h0M604.6 62.0h0M605.6 64.1h0M606.6 67.5h0M608.7 68.2h0M403.6 117.7h0M413.3 114.6h0M429.6 109.5h0M430.6 112.6h0M441.3 106.9h0M439.7 115.6h0M441.3 113.0h0M438.1 126.4h0M440.7 126.4h0M448.2 127.2h0M451.9 125.8h0M453.9 123.4h0M455.9 108.1h0M460.0 126.4h0M463.0 126.8h0M466.1 126.8h0M464.0 109.5h0M466.8 109.5h0M470.1 108.5h0M469.7 105.9h0M465.1 100.8h0M471.2 90.9h0M473.8 96.8h0M477.2 98.0h0M479.7 95.9h0M480.9 81.7h0M488.0 76.1h0M494.1 75.0h0M496.6 74.4h0M512.8 74.4h0M515.4 73.6h0M513.8 76.6h0M520.9 73.0h0M518.8 79.7h0M495.5 86.2h0M497.5 88.2h0M501.6 85.2h0M503.6 87.8h0M505.7 89.9h0M502.6 82.6h0M517.8 87.8h0M520.9 88.2h0M523.9 85.2h0M525.9 87.2h0M582.1 74.5h0M588.2 79.2h0M590.3 81.2h0M591.3 78.1h0M584.2 86.3h0M586.7 85.3h0M600.5 86.3h0M603.6 84.3h0M606.1 83.2h0M604.6 86.8h0M605.6 91.4h0M607.7 93.4h0M607.7 96.5h0M610.7 98.5h0M611.8 96.0h0M595.4 96.9h0M583.1 96.1h0M579.0 99.6h0M581.1 101.6h0M591.3 102.7h0M603.6 104.7h0M605.6 106.7h0M614.8 103.7h0M616.9 105.2h0M617.9 102.7h0M579.0 104.7h0M582.1 105.7h0M585.2 106.7h0M587.2 108.3h0M590.3 108.8h0M593.4 109.8h0M596.4 108.8h0M599.5 109.8h0M604.6 110.8h0M610.7 108.8h0M612.8 110.8h0M611.3 113.4h0M585.2 111.9h0M588.2 113.9h0M590.3 112.4h0M589.3 126.2h0M595.4 129.2h0M586.2 130.2h0M404.2 135.1h0M411.3 137.1h0M411.3 139.5h0M423.5 138.1h0M405.2 145.2h0M407.7 144.2h0M406.2 147.3h0M413.3 153.7h0M409.3 168.5h0M414.3 168.5h0M434.6 132.0h0M435.6 134.4h0M559.6 133.0h0M565.8 133.5h0M565.2 136.0h0M585.6 131.4h0M595.4 131.0h0M583.5 138.2h0M549.4 148.4h0M554.5 145.7h0M563.7 146.9h0M532.0 154.5h0M535.1 152.5h0M538.2 155.1h0M536.1 157.6h0M533.1 159.6h0M537.2 160.6h0M530.0 156.5h0M533.1 165.7h0M538.2 168.8h0M554.1 159.6h0M561.7 161.7h0M565.2 161.7h0M580.7 158.6h0M595.0 159.6h0M606.6 159.6h0M607.7 152.5h0M563.7 183.1h0M490.7 198.1h0M493.8 197.1h0M498.5 199.6h0M488.0 191.0h0M470.5 206.2h0M472.2 208.8h0M489.0 215.4h0M486.8 228.6h0M462.0 218.4h0M463.0 221.5h0M456.3 223.5h0M457.6 226.1h0M467.7 225.1h0M469.6 222.5h0M444.2 231.6h0M446.7 230.6h0M436.7 236.1h0M437.7 238.7h0M415.4 237.7h0M556.2 191.5h0M405.6 232.3h0M408.8 232.3h0M412.0 232.5h0M415.3 232.4h0M418.4 232.3h0M408.7 229.1h0M411.9 229.1h0M415.3 229.3h0M418.3 229.0h0M421.7 229.3h0M424.8 229.0h0M412.1 225.9h0M415.1 225.9h0M418.5 225.9h0M421.5 226.0h0M405.7 222.7h0M408.8 222.8h0M412.0 222.7h0M415.3 222.7h0M418.3 222.8h0M421.7 222.6h0M424.7 222.6h0M434.3 222.6h0M418.3 219.4h0M421.5 219.5h0M424.8 219.5h0M428.1 219.5h0M431.2 219.5h0M434.5 219.3h0M437.7 219.5h0M415.2 216.0h0M418.4 216.2h0M421.5 216.2h0M424.8 216.2h0M428.0 216.2h0M431.3 216.2h0M434.5 216.2h0M437.5 216.2h0M440.8 216.0h0M444.1 216.1h0M428.1 212.8h0M431.3 213.0h0M434.5 213.0h0M437.5 212.8h0M440.8 213.0h0M444.1 212.8h0M447.2 212.9h0M418.5 209.6h0M421.6 209.7h0M431.2 209.8h0M434.5 209.6h0M437.7 209.7h0M440.9 209.6h0M418.3 206.3h0M421.5 206.5h0M424.7 206.3h0M428.0 206.3h0M431.3 206.4h0M434.5 206.5h0M437.7 206.3h0M440.8 206.4h0M444.0 206.5h0M447.2 206.5h0M450.4 206.3h0M453.5 206.4h0M421.7 203.3h0M424.7 203.1h0M428.0 203.0h0M431.1 203.1h0M434.3 203.0h0M437.6 203.1h0M440.9 203.3h0M444.1 203.1h0M447.3 203.1h0M421.5 199.9h0M424.7 199.8h0M428.1 200.0h0M431.1 199.9h0M434.5 199.8h0M437.5 199.8h0M440.9 199.9h0M444.0 200.0h0M447.2 199.8h0M450.4 199.8h0M453.6 199.9h0M456.9 200.0h0M460.0 200.0h0M463.2 199.8h0M466.5 199.8h0M424.9 196.7h0M427.9 196.6h0M431.1 196.6h0M434.5 196.6h0M437.6 196.6h0M440.9 196.6h0M444.0 196.7h0M447.1 196.5h0M450.4 196.7h0M453.5 196.6h0M456.9 196.7h0M440.8 193.3h0M444.1 193.5h0M447.2 193.4h0M450.4 193.5h0M453.6 193.5h0M456.8 193.4h0M460.1 193.3h0M463.2 193.3h0M466.3 193.5h0M469.5 193.5h0M472.7 193.5h0M476.0 193.5h0M479.1 193.4h0M482.5 193.3h0M431.3 190.1h0M443.9 190.1h0M447.1 190.0h0M450.4 190.1h0M453.7 190.2h0M456.9 190.3h0M459.9 190.2h0M463.3 190.2h0M466.3 190.1h0M469.6 190.1h0M472.9 190.1h0M476.1 190.0h0M479.3 190.3h0M421.7 187.0h0M424.9 186.8h0M428.1 186.9h0M431.2 186.8h0M434.3 186.8h0M437.6 186.8h0M440.7 186.8h0M443.9 186.8h0M447.1 187.0h0M450.4 186.9h0M453.6 187.0h0M456.9 187.0h0M460.1 187.0h0M463.3 186.8h0M466.4 186.8h0M469.7 186.8h0M472.9 186.8h0M476.0 187.0h0M479.2 186.8h0M482.3 187.0h0M485.5 186.9h0M427.9 183.6h0M431.3 183.5h0M434.3 183.6h0M437.5 183.7h0M440.8 183.5h0M444.1 183.7h0M447.1 183.6h0M450.3 183.7h0M453.6 183.7h0M456.7 183.8h0M460.1 183.6h0M463.1 183.6h0M466.5 183.5h0M469.6 183.7h0M472.7 183.5h0M475.9 183.6h0M479.3 183.7h0M488.7 183.8h0M491.9 183.6h0M440.9 180.3h0M444.0 180.4h0M447.1 180.3h0M450.5 180.3h0M453.6 180.5h0M456.7 180.3h0M460.0 180.4h0M463.1 180.5h0M466.5 180.4h0M469.5 180.5h0M472.7 180.5h0M476.0 180.5h0M485.5 180.5h0M488.9 180.3h0M492.1 180.5h0M495.1 180.3h0M498.3 180.5h0M501.5 180.5h0M437.7 177.1h0M440.9 177.3h0M443.9 177.1h0M447.2 177.0h0M450.4 177.1h0M456.9 177.1h0M460.0 177.2h0M463.1 177.1h0M466.5 177.2h0M469.7 177.0h0M472.8 177.1h0M476.1 177.1h0M479.1 177.0h0M482.4 177.1h0M485.5 177.2h0M488.9 177.1h0M492.0 177.3h0M495.3 177.3h0M498.5 177.1h0M501.6 177.1h0M444.0 173.9h0M447.3 173.9h0M450.4 174.0h0M453.7 173.9h0M456.8 173.9h0M460.0 173.8h0M463.1 173.8h0M466.4 173.8h0M469.7 173.9h0M472.7 174.0h0M476.1 173.8h0M479.3 173.9h0M482.5 174.0h0M485.6 174.0h0M488.7 174.0h0M492.1 174.0h0M495.2 173.8h0M498.4 173.8h0M501.6 174.0h0M504.8 174.0h0M507.9 173.9h0M440.9 170.8h0M444.1 170.5h0M447.3 170.6h0M450.4 170.6h0M453.7 170.6h0M456.7 170.5h0M459.9 170.6h0M463.3 170.7h0M466.5 170.8h0M469.7 170.7h0M472.8 170.7h0M476.0 170.6h0M479.2 170.6h0M482.4 170.6h0M485.6 170.7h0M488.7 170.5h0M492.1 170.7h0M495.1 170.7h0M498.5 170.6h0M443.9 167.4h0M447.2 167.5h0M450.5 167.5h0M453.5 167.5h0M456.7 167.3h0M460.0 167.3h0M463.1 167.5h0M466.3 167.4h0M469.5 167.4h0M479.3 167.4h0M482.5 167.3h0M485.5 167.3h0M488.8 167.5h0M491.9 167.3h0M495.1 167.3h0M498.4 167.5h0M501.6 167.5h0M504.8 167.5h0M508.0 167.5h0M511.2 167.4h0M443.9 164.1h0M447.1 164.2h0M450.4 164.1h0M453.5 164.2h0M456.7 164.2h0M460.1 164.1h0M463.2 164.2h0M466.4 164.2h0M469.7 164.1h0M472.8 164.1h0M479.1 164.1h0M482.3 164.1h0M485.5 164.1h0M488.9 164.2h0M491.9 164.0h0M495.2 164.2h0M498.4 164.0h0M501.6 164.2h0M443.9 160.9h0M447.2 160.9h0M450.4 160.8h0M453.5 161.0h0M456.7 160.8h0M469.6 160.8h0M472.9 160.9h0M476.1 160.9h0M479.1 161.0h0M482.3 160.9h0M485.6 160.8h0M488.8 160.8h0M492.1 161.0h0M495.1 160.8h0M498.5 161.0h0M501.5 160.9h0M504.9 161.0h0M508.0 161.0h0M511.3 160.9h0M514.4 161.0h0M460.1 157.7h0M463.2 157.6h0M466.3 157.6h0M469.7 157.7h0M475.9 157.6h0M479.1 157.7h0M482.4 157.7h0M485.7 157.6h0M488.9 157.7h0M492.0 157.5h0M495.1 157.6h0M498.4 157.6h0M501.5 157.6h0M504.7 157.6h0M456.8 154.4h0M460.0 154.5h0M463.3 154.3h0M469.5 154.4h0M472.9 154.3h0M475.9 154.3h0M479.2 154.5h0M482.4 154.3h0M485.7 154.3h0M488.8 154.4h0M492.1 154.5h0M495.2 154.5h0M498.4 154.5h0M501.5 154.4h0M504.9 154.5h0M508.1 154.4h0M511.1 154.5h0M514.3 154.5h0M453.7 151.2h0M456.7 151.3h0M460.1 151.2h0M463.3 151.2h0M466.5 151.2h0M469.6 151.2h0M472.8 151.0h0M476.0 151.0h0M479.3 151.0h0M482.3 151.2h0M485.5 151.1h0M488.8 151.3h0M492.1 151.0h0M495.1 151.1h0M498.5 151.2h0M501.7 151.2h0M504.8 151.2h0M508.0 151.2h0M511.2 151.0h0M466.5 148.0h0M469.5 147.8h0M472.7 147.8h0M488.7 147.8h0M492.1 148.0h0M495.1 148.0h0M498.3 147.8h0M501.6 147.8h0M504.9 148.0h0M508.1 147.9h0M511.2 148.0h0M514.5 148.0h0M463.2 144.7h0M466.5 144.8h0M469.5 144.7h0M472.8 144.7h0M475.9 144.6h0M479.2 144.6h0M482.5 144.6h0M485.6 144.5h0M504.8 144.6h0M508.0 144.7h0M511.2 144.8h0M514.5 144.8h0M517.5 144.6h0M466.4 141.5h0M469.6 141.3h0M472.9 141.3h0M476.1 141.3h0M479.1 141.4h0M482.5 141.4h0M485.6 141.3h0M488.9 141.3h0M491.9 141.3h0M495.1 141.3h0M498.3 141.3h0M501.7 141.4h0M504.9 141.4h0M508.0 141.4h0M511.3 141.3h0M514.3 141.4h0M517.6 141.4h0M520.8 141.5h0M466.4 138.1h0M469.5 138.0h0M472.7 138.1h0M475.9 138.1h0M479.3 138.3h0M482.5 138.2h0M485.7 138.3h0M488.7 138.1h0M492.1 138.3h0M495.2 138.1h0M498.5 138.0h0M501.7 138.1h0M504.9 138.2h0M508.0 138.3h0M517.6 138.2h0M520.9 138.1h0M524.0 138.2h0M527.3 138.2h0M475.9 134.9h0M479.3 134.9h0M482.5 134.8h0M485.7 135.0h0M488.9 134.8h0M491.9 134.9h0M495.1 134.9h0M498.4 135.0h0M501.5 134.9h0M504.9 135.0h0M507.9 135.0h0M511.2 135.0h0M514.3 135.0h0M517.7 135.0h0M520.8 134.8h0M523.9 134.9h0M527.1 135.0h0M530.3 134.9h0M533.6 135.0h0M536.8 134.8h0M466.4 131.7h0M469.6 131.7h0M472.9 131.7h0M476.1 131.7h0M479.3 131.8h0M482.4 131.6h0M485.7 131.6h0M488.7 131.5h0M492.1 131.5h0M501.6 131.6h0M504.7 131.7h0M508.0 131.6h0M511.1 131.7h0M514.3 131.7h0M517.5 131.5h0M520.8 131.8h0M524.0 131.5h0M527.2 131.7h0M530.5 131.5h0M533.6 131.5h0M482.5 128.5h0M485.5 128.3h0M488.7 128.4h0M491.9 128.5h0M495.3 128.3h0M498.3 128.3h0M501.5 128.3h0M504.7 128.5h0M508.0 128.4h0M511.3 128.5h0M514.5 128.4h0M517.6 128.3h0M527.1 128.5h0M530.4 128.5h0M533.6 128.4h0M501.5 125.1h0M504.7 125.0h0M508.0 125.3h0M511.1 125.1h0M514.5 125.2h0M517.6 125.2h0M501.7 121.9h0M504.8 121.9h0M508.0 122.0h0M511.2 121.8h0M543.3 122.0h0M546.5 121.9h0M508.0 118.7h0M511.1 118.7h0M514.5 118.6h0M540.1 118.8h0M543.2 118.8h0M546.5 118.7h0M549.7 118.7h0M498.3 115.3h0M501.6 115.4h0M543.2 115.3h0M546.5 115.3h0M549.5 115.4h0M511.1 112.1h0M514.3 112.2h0M517.7 112.2h0M546.3 112.0h0M549.6 112.1h0M495.2 108.8h0M498.5 109.0h0M507.9 105.7h0M511.2 105.7h0M514.3 105.7h0M517.7 105.7h0M511.3 102.3h0M514.4 102.3h0M504.7 99.2h0M508.1 99.1h0M511.2 99.0h0M514.5 99.1h0M517.5 99.1h0M536.8 95.8h0M540.1 95.8h0M543.2 96.0h0M546.3 95.9h0M417.5 194.3h0M418.1 197.1h0M420.2 195.2h0M527.2 93.5h0M524.3 93.2h0M527.5 90.6h0M524.6 90.4h0M461.3 134.0h0M461.6 136.9h0M463.9 135.2h0M469.0 116.3h0M469.8 113.6h0M471.8 117.2h0M472.6 114.4h0M562.8 125.1h0M561.9 122.4h0M560.0 124.5h0M405.2 191.6h0M404.4 188.8h0M539.2 88.1h0M536.4 88.7h0M538.3 90.8h0M456.2 147.4h0M456.7 144.5h0M457.2 141.7h0M454.0 145.5h0M454.5 142.7h0M507.1 84.1h0M509.9 84.4h0M508.8 81.8h0M555.5 116.9h0M555.3 114.0h0M558.4 116.7h0M558.2 113.8h0M525.5 152.9h0M525.9 150.0h0M528.3 153.3h0M528.8 150.5h0M434.2 165.6h0M437.0 164.8h0M524.2 111.8h0M521.3 112.1h0M523.9 108.9h0M521.0 109.2h0M491.4 119.4h0M492.0 122.2h0M494.1 120.3h0M494.7 123.1h0M568.5 85.3h0M571.4 85.2h0M569.9 82.7h0M542.8 128.6h0M542.4 131.5h0M545.1 130.4h0M533.2 92.6h0M530.3 93.1h0M532.1 95.3h0M558.8 107.8h0M559.0 110.7h0M555.9 108.0h0M556.1 110.9h0M462.2 205.2h0M462.2 208.1h0M459.3 205.2h0M459.3 208.1h0M528.8 107.6h0M528.7 110.5h0M531.2 109.1h0M531.2 112.0h0M543.3 104.8h0M542.9 107.6h0M545.6 106.6h0M545.1 109.4h0M486.6 103.5h0M487.4 106.3h0M489.4 104.3h0M490.1 107.1h0M479.6 199.8h0M476.7 199.2h0M473.9 198.5h0M477.6 201.9h0M474.7 201.2h0M442.0 148.4h0M439.1 148.8h0M440.9 151.1h0M558.5 77.8h0M558.3 80.7h0M560.9 79.5h0M560.6 82.4h0M514.9 177.7h0M517.8 177.9h0M516.5 175.3h0M537.9 103.5h0M538.4 106.3h0M540.6 104.4h0M537.1 122.8h0M534.2 122.3h0M535.2 125.0h0M532.4 124.5h0M560.0 95.0h0M557.2 95.8h0M515.1 92.7h0M518.0 92.9h0M514.9 95.6h0M517.8 95.8h0M551.9 126.5h0M554.8 126.5h0M553.3 124.0h0M436.2 146.4h0M435.8 143.6h0M529.5 145.1h0M529.9 142.3h0M532.4 145.5h0M532.8 142.6h0M459.1 220.7h0M459.1 217.8h0M456.6 219.3h0M482.2 100.4h0M482.8 103.2h0M484.9 101.3h0M432.1 236.7h0M432.7 233.8h0M429.9 234.7h0M549.3 77.0h0M546.5 77.3h0M548.2 79.6h0M415.4 185.2h0M416.1 188.0h0M566.7 104.3h0M566.8 107.2h0M566.9 110.1h0M569.2 105.6h0M569.3 108.5h0M485.4 196.0h0M488.2 196.8h0M509.5 178.9h0M506.7 178.7h0M507.9 181.3h0M505.0 181.1h0M524.0 159.9h0M521.2 160.7h0M523.3 162.7h0M468.5 101.4h0M471.4 101.0h0M519.4 182.1h0M516.5 181.7h0M526.3 98.5h0M525.9 101.4h0M528.6 100.3h0M489.7 113.8h0M486.8 114.3h0M489.1 110.9h0M486.3 111.5h0M480.2 117.5h0M477.3 117.9h0M474.4 118.3h0M479.0 120.2h0M476.2 120.6h0M531.6 86.3h0M528.7 86.0h0M529.9 88.7h0M497.2 101.2h0M497.3 104.1h0M544.9 138.0h0M544.3 140.9h0M542.0 137.5h0M541.4 140.3h0M567.5 95.2h0M568.1 98.0h0M518.1 160.2h0M517.5 163.1h0M452.2 215.6h0M449.3 215.0h0M450.2 217.8h0M447.4 217.2h0M406.0 214.5h0M405.6 211.6h0M408.9 214.1h0M408.4 211.2h0M439.4 223.6h0M442.1 222.9h0M440.1 220.8h0M473.5 110.9h0M476.4 110.9h0M479.3 111.0h0M475.0 108.4h0M477.9 108.5h0M520.1 168.1h0M517.2 168.4h0M514.3 168.7h0M518.9 170.8h0M516.0 171.1h0M539.0 129.1h0M538.4 126.2h0M536.2 128.1h0M445.1 150.5h0M444.5 153.3h0M531.6 175.3h0M528.7 175.5h0M530.3 177.9h0M527.4 178.1h0M548.7 89.8h0M551.5 90.5h0M550.7 87.7h0M534.3 116.0h0M537.2 116.1h0M535.8 113.5h0M538.7 113.7h0M505.0 95.7h0M507.9 96.2h0M506.8 93.5h0M509.7 93.9h0M488.9 124.2h0M486.0 124.1h0M514.2 189.5h0M517.0 188.8h0M519.7 188.0h0M514.9 186.8h0M517.7 186.0h0M439.5 158.0h0M442.4 157.6h0M441.5 225.8h0M444.4 226.0h0M441.3 228.7h0M444.2 228.9h0M452.0 140.9h0M452.0 138.0h0M415.1 198.0h0M412.3 198.7h0M414.3 200.8h0M558.2 136.8h0M558.7 139.6h0M559.2 142.5h0M560.9 137.8h0M561.4 140.6h0M576.6 78.8h0M576.8 75.9h0M574.2 77.2h0M529.2 119.8h0M528.4 122.6h0M562.0 100.7h0M561.5 97.9h0M565.4 127.0h0M562.7 127.8h0M564.8 129.8h0M406.1 241.4h0M403.3 240.8h0M408.0 235.5h0M408.8 238.2h0M410.8 236.2h0M411.6 239.0h0M501.7 185.5h0M502.5 188.3h0M504.5 186.2h0M505.3 189.0h0M407.5 182.1h0M410.4 182.4h0M407.2 185.0h0M410.1 185.3h0M461.9 97.6h0M464.8 97.5h0M516.6 157.4h0M517.1 154.6h0M543.9 82.8h0M543.7 79.9h0M543.4 77.0h0M541.3 81.6h0M541.0 78.7h0M432.7 171.1h0M429.8 171.4h0M431.5 173.7h0M428.6 174.0h0M463.4 211.3h0M466.3 211.4h0M465.0 208.8h0M554.9 100.5h0M555.0 103.4h0M557.5 101.9h0M437.7 152.6h0M438.0 155.5h0M434.8 152.9h0M435.1 155.8h0M522.9 123.2h0M520.0 123.3h0M521.6 125.7h0M526.8 74.6h0M526.2 71.7h0M529.6 74.0h0M529.1 71.2h0M486.0 88.0h0M488.8 87.2h0M447.9 137.3h0M448.4 134.5h0M549.0 96.3h0M551.9 95.9h0M550.1 93.6h0M553.0 93.3h0M548.1 83.8h0M550.9 84.5h0M550.1 81.7h0M552.9 82.4h0M513.8 89.0h0M514.5 86.2h0M511.7 87.0h0M574.5 95.1h0M571.6 95.7h0M526.9 144.3h0M527.4 147.1h0M524.1 144.8h0M524.6 147.6h0M486.2 117.8h0M489.1 117.4h0M503.7 110.6h0M504.4 107.8h0M501.6 108.6h0M489.6 95.8h0M489.7 92.9h0M492.5 96.0h0M492.6 93.1h0M474.1 123.3h0M471.3 124.0h0M473.3 126.1h0M496.1 189.8h0M495.9 187.0h0M496.3 90.6h0M496.9 93.4h0M463.5 120.8h0M460.7 121.7h0M462.8 123.7h0M531.4 82.2h0M528.5 82.1h0M531.4 79.3h0M528.5 79.2h0M559.2 88.2h0M559.4 85.3h0M562.1 88.4h0M562.3 85.5h0M534.0 139.7h0M531.1 139.4h0M537.4 111.0h0M540.3 110.8h0M534.7 106.2h0M534.5 103.3h0M532.1 104.9h0M430.9 176.9h0M428.0 177.2h0M429.8 179.5h0M426.9 179.9h0M418.0 180.6h0M420.9 180.6h0M418.0 183.5h0M420.9 183.5h0M429.4 226.1h0M432.2 226.7h0M431.4 224.0h0M456.2 213.6h0M455.6 210.7h0M453.5 212.7h0M506.6 116.1h0M509.5 116.3h0M508.2 113.7h0M526.0 120.1h0M525.9 117.3h0M448.4 152.7h0M451.3 152.5h0M449.6 150.1h0M499.2 97.3h0M499.6 94.4h0M458.5 137.3h0M455.6 137.8h0M457.9 134.4h0M455.1 135.0h0M516.0 115.2h0M518.9 115.3h0M416.1 211.1h0M415.6 208.3h0M546.7 99.5h0M547.0 102.4h0M549.3 100.7h0M513.5 83.1h0M513.4 80.2h0M423.2 233.8h0M422.9 236.7h0M422.6 239.6h0M425.6 235.5h0M425.2 238.4h0M499.8 102.4h0M502.6 103.2h0M501.9 100.4h0M492.6 187.1h0M489.7 187.6h0M540.0 98.9h0M537.1 98.8h0M498.7 112.2h0M501.6 112.5h0M514.8 164.2h0M511.9 164.0h0M548.0 107.5h0M550.9 107.9h0M549.8 105.2h0M552.7 105.6h0M482.7 180.1h0M482.1 183.0h0M491.7 81.9h0M491.2 84.7h0M493.9 83.7h0M410.2 216.5h0M407.5 217.4h0M409.6 219.3h0M452.0 208.7h0M449.1 208.7h0M450.6 211.2h0M520.8 99.6h0M520.5 102.5h0M523.1 101.4h0M470.4 201.1h0M470.5 198.2h0M561.5 115.9h0M564.4 116.2h0M563.2 113.6h0M427.4 190.0h0M424.5 190.3h0M426.2 192.6h0M423.3 192.8h0M536.2 81.8h0M536.2 84.7h0M538.7 83.2h0M449.4 155.5h0M449.1 158.4h0M451.7 157.2h0M417.2 191.2h0M420.0 191.8h0M419.2 189.1h0M483.2 92.5h0M482.4 95.3h0M495.3 112.0h0M492.4 111.7h0M493.6 114.3h0M437.7 190.9h0M434.9 190.5h0M436.0 193.1h0M403.3 224.3h0M403.0 227.2h0M402.7 230.1h0M405.6 226.0h0M405.4 228.9h0M416.4 202.7h0M419.2 202.0h0M417.2 199.9h0M516.0 121.3h0M518.7 120.4h0M540.1 150.0h0M537.2 150.2h0M552.1 132.1h0M549.3 131.5h0M552.7 129.2h0M549.8 128.7h0M472.0 129.0h0M474.9 128.8h0M517.6 151.4h0M520.5 150.7h0M518.5 148.6h0M440.2 162.7h0M440.2 165.6h0M547.0 127.4h0M547.2 124.5h0M544.6 125.8h0M498.3 81.6h0M497.5 84.3h0M481.8 124.6h0M479.0 124.4h0M480.2 127.0h0M499.5 118.0h0M496.7 118.6h0M470.1 119.4h0M467.3 119.8h0M469.1 122.1h0M466.2 122.5h0M434.5 179.4h0M437.3 180.1h0M536.3 138.3h0M536.9 141.1h0M539.0 139.2h0M404.3 220.3h0M404.2 217.4h0M401.7 218.9h0M401.7 216.0h0M402.4 237.8h0M405.2 237.0h0M403.1 235.0h0M499.9 145.0h0M497.0 145.0h0M483.4 147.1h0M480.5 147.6h0M438.0 168.9h0M438.4 171.7h0M468.0 195.7h0M465.2 196.1h0M489.9 192.9h0M492.8 193.1h0M491.5 190.5h0M424.9 213.1h0M424.9 210.2h0M533.5 119.5h0M536.4 120.0h0M509.0 108.9h0M511.9 108.9h0M470.7 134.3h0M467.8 134.3h0M528.0 125.6h0M525.2 125.0h0M532.6 100.9h0M532.9 98.0h0M465.1 205.2h0M464.4 202.4h0M481.5 121.2h0M484.4 121.1h0M482.7 196.4h0M479.9 196.1h0M500.3 88.5h0M500.1 91.4h0M466.8 160.8h0M464.0 161.4h0M435.0 226.9h0M437.9 227.2h0M436.7 224.5h0M464.6 129.4h0M461.7 129.2h0M505.4 118.9h0M502.6 118.0h0M461.3 202.6h0M458.4 202.5h0M463.0 139.2h0M460.1 139.8h0M462.1 142.0h0M422.1 212.8h0M419.2 212.5h0M476.2 167.1h0M475.7 164.3h0M489.6 144.9h0M492.5 144.2h0M467.7 206.8h0M468.0 203.9h0M439.8 174.6h0M436.9 174.5h0M428.3 209.6h0M485.0 183.9h0M454.4 157.6h0M512.0 138.1h0M506.4 165.2h0M505.3 104.9h0M476.6 125.7h0M463.7 147.7h0M496.6 182.7h0M443.8 209.7h0M425.6 225.1h0M498.1 125.4h0M505.6 112.7h0M455.2 204.1h0M497.1 121.4h0M451.4 203.0h0M501.4 171.0h0M491.2 125.9h0M420.5 234.4h0M496.1 131.8h0M416.8 235.1h0M507.6 102.2h0M430.0 193.9h0M518.2 108.9h0M483.6 190.9h0M504.2 171.1h0M466.2 154.4h0M504.2 163.6h0M415.5 205.6h0M461.4 160.6h0M412.9 219.9h0M504.4 177.0h0M460.9 197.5h0M428.1 222.6h0M432.9 193.8h0M476.3 196.5h0M499.0 131.3h0M440.9 189.6h0M461.2 146.6h0M438.0 161.0h0M507.1 170.9h0M446.4 210.2h0M477.8 128.2h0M472.3 157.0h0M472.5 120.9h0" class="di"/>
<path d="M90.5 240.4h3.0M93.7 227.5h4.3M125.7 224.5h2.6M116.1 217.6h6.0M93.7 214.4h5.5M93.7 211.4h2.8M103.3 211.1h5.5M128.9 211.1h5.8M96.9 208.2h6.9M128.9 201.5h4.1M106.5 198.2h4.7M128.9 198.3h7.4M173.7 191.6h4.3M103.3 188.3h5.4M138.5 188.5h4.9M119.3 185.4h3.4M141.7 185.2h6.1M176.9 185.2h4.2M167.3 181.9h5.1M112.9 168.9h5.0M186.5 169.0h6.7M144.9 162.6h6.5M189.7 159.3h4.6M154.5 156.0h6.1M148.1 146.5h7.7M189.7 146.4h2.6M132.1 143.2h6.5M157.7 139.9h4.6M196.1 139.8h6.0M208.9 139.8h7.0M180.1 136.4h5.3M192.9 133.2h7.5M215.3 126.7h3.1M208.9 120.4h6.6M199.3 107.4h7.7M231.3 107.5h6.0M167.3 104.0h5.5M231.3 104.0h3.8M228.1 100.9h4.2M202.5 97.4h7.0M215.3 97.6h4.2M224.9 94.2h3.7M237.7 78.1h2.8M431.2 224.2h7.8M412.0 221.2h4.9M428.0 217.6h2.5M444.0 211.3h4.2M440.8 208.1h4.8M453.6 208.0h2.9M428.0 201.7h6.0M437.6 201.6h3.5M431.2 194.8h7.7M460.0 195.0h5.8M472.8 195.0h7.9M479.2 185.1h3.2M431.2 182.1h4.5M437.6 178.6h7.1M450.4 178.9h7.8M498.4 178.6h3.6M479.2 172.1h4.7M488.8 172.4h6.1M453.6 169.1h5.5M495.2 169.2h3.1M501.6 162.6h5.6M479.2 159.1h3.3M504.8 156.2h4.0M463.2 146.1h7.2M508.0 146.2h4.0M492.0 143.0h6.4M482.4 139.8h7.6M511.2 136.5h7.2M476.0 133.2h4.6M498.4 133.3h7.2" class="ws"/>
<path d="M47.40 13.90H332.80V246.90H47.40" class="b"/>
<line x1="47.40" y1="13.90" x2="47.40" y2="246.90" class="ax"/>
<line x1="47.40" y1="246.90" x2="47.40" y2="250.40" class="tk"/>
<line x1="43.40" y1="246.90" x2="47.40" y2="246.90" class="tk"/>
<line x1="94.97" y1="246.90" x2="94.97" y2="250.40" class="tk"/>
<line x1="43.40" y1="208.07" x2="47.40" y2="208.07" class="tk"/>
<line x1="142.53" y1="246.90" x2="142.53" y2="250.40" class="tk"/>
<line x1="43.40" y1="169.23" x2="47.40" y2="169.23" class="tk"/>
<line x1="190.10" y1="246.90" x2="190.10" y2="250.40" class="tk"/>
<line x1="43.40" y1="130.40" x2="47.40" y2="130.40" class="tk"/>
<line x1="237.67" y1="246.90" x2="237.67" y2="250.40" class="tk"/>
<line x1="43.40" y1="91.57" x2="47.40" y2="91.57" class="tk"/>
<line x1="285.23" y1="246.90" x2="285.23" y2="250.40" class="tk"/>
<line x1="43.40" y1="52.73" x2="47.40" y2="52.73" class="tk"/>
<line x1="332.80" y1="246.90" x2="332.80" y2="250.40" class="tk"/>
<line x1="43.40" y1="13.90" x2="47.40" y2="13.90" class="tk"/>
<path d="M391.30 13.90H669.50V246.90H391.30" class="b"/>
<line x1="391.30" y1="13.90" x2="391.30" y2="246.90" class="ax"/>
<line x1="391.30" y1="246.90" x2="391.30" y2="250.40" class="tk"/>
<line x1="387.30" y1="246.90" x2="391.30" y2="246.90" class="tk"/>
<line x1="437.67" y1="246.90" x2="437.67" y2="250.40" class="tk"/>
<line x1="387.30" y1="208.07" x2="391.30" y2="208.07" class="tk"/>
<line x1="484.03" y1="246.90" x2="484.03" y2="250.40" class="tk"/>
<line x1="387.30" y1="169.23" x2="391.30" y2="169.23" class="tk"/>
<line x1="530.40" y1="246.90" x2="530.40" y2="250.40" class="tk"/>
<line x1="387.30" y1="130.40" x2="391.30" y2="130.40" class="tk"/>
<line x1="576.77" y1="246.90" x2="576.77" y2="250.40" class="tk"/>
<line x1="387.30" y1="91.57" x2="391.30" y2="91.57" class="tk"/>
<line x1="623.13" y1="246.90" x2="623.13" y2="250.40" class="tk"/>
<line x1="387.30" y1="52.73" x2="391.30" y2="52.73" class="tk"/>
<line x1="669.50" y1="246.90" x2="669.50" y2="250.40" class="tk"/>
<line x1="387.30" y1="13.90" x2="391.30" y2="13.90" class="tk"/>
<text x="48.10" y="266.70" class="tl" text-anchor="middle">0</text>
<text x="35.90" y="251.50" class="tl" text-anchor="end">0</text>
<text x="95.67" y="266.70" class="tl" text-anchor="middle">2</text>
<text x="35.90" y="212.67" class="tl" text-anchor="end">2</text>
<text x="143.23" y="266.70" class="tl" text-anchor="middle">4</text>
<text x="35.90" y="173.83" class="tl" text-anchor="end">4</text>
<text x="190.80" y="266.70" class="tl" text-anchor="middle">6</text>
<text x="35.90" y="135.00" class="tl" text-anchor="end">6</text>
<text x="238.37" y="266.70" class="tl" text-anchor="middle">8</text>
<text x="35.90" y="96.17" class="tl" text-anchor="end">8</text>
<text x="285.93" y="266.70" class="tl" text-anchor="middle">10</text>
<text x="35.90" y="57.33" class="tl" text-anchor="end">10</text>
<text x="333.50" y="266.70" class="tl" text-anchor="middle">12</text>
<text x="35.90" y="18.50" class="tl" text-anchor="end">12</text>
<text x="190.75" y="284.0" class="tt" text-anchor="middle" textLength="186" lengthAdjust="spacing">Wind Speed (ms-1)-Observed</text>
<text transform="translate(18.00 130.50) rotate(-90)" class="tt" text-anchor="middle" textLength="143" lengthAdjust="spacing">Wind Speed (ms-1)-RS</text>
<text x="12.00" y="283.2" class="tag">(a)</text>
<text x="392.00" y="266.70" class="tl" text-anchor="middle">0.0</text>
<text x="379.80" y="251.50" class="tl" text-anchor="end">0.0</text>
<text x="438.37" y="266.70" class="tl" text-anchor="middle">0.2</text>
<text x="379.80" y="212.67" class="tl" text-anchor="end">0.2</text>
<text x="484.73" y="266.70" class="tl" text-anchor="middle">0.4</text>
<text x="379.80" y="173.83" class="tl" text-anchor="end">0.4</text>
<text x="531.10" y="266.70" class="tl" text-anchor="middle">0.6</text>
<text x="379.80" y="135.00" class="tl" text-anchor="end">0.6</text>
<text x="577.47" y="266.70" class="tl" text-anchor="middle">0.8</text>
<text x="379.80" y="96.17" class="tl" text-anchor="end">0.8</text>
<text x="623.83" y="266.70" class="tl" text-anchor="middle">1.0</text>
<text x="379.80" y="57.33" class="tl" text-anchor="end">1.0</text>
<text x="670.20" y="266.70" class="tl" text-anchor="middle">1.2</text>
<text x="379.80" y="18.50" class="tl" text-anchor="end">1.2</text>
<text x="530.40" y="284.0" class="tt" text-anchor="middle">AOD-Observed</text>
<text transform="translate(357.60 129.85) rotate(-90)" class="tt" text-anchor="middle" textLength="57" lengthAdjust="spacing">AOD-RS</text>
<text x="350.60" y="283.2" class="tag">(b)</text>
</svg></body></html>
